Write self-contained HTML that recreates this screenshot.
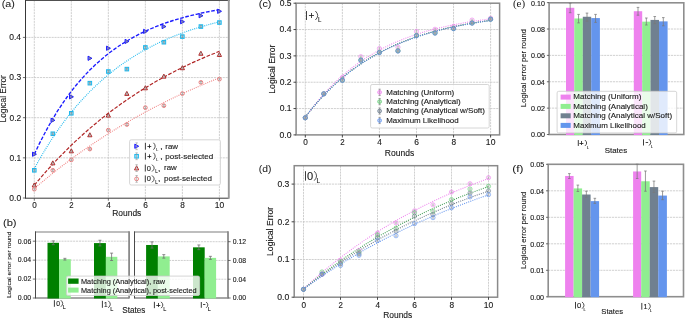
<!DOCTYPE html>
<html><head><meta charset="utf-8"><style>
html,body{margin:0;padding:0;background:#fff;width:685px;height:318px;overflow:hidden}
svg{display:block;will-change:transform}
text{font-family:"Liberation Sans", sans-serif}
</style></head><body>
<svg width="685" height="318" viewBox="0 0 685 318">
<rect width="685" height="318" fill="#fff"/>
<line x1="34.3" y1="0.5" x2="34.3" y2="198.2" stroke="#c8c8c8" stroke-width="0.85" stroke-dasharray="2.1 0.8"/>
<line x1="71.32" y1="0.5" x2="71.32" y2="198.2" stroke="#c8c8c8" stroke-width="0.85" stroke-dasharray="2.1 0.8"/>
<line x1="108.34" y1="0.5" x2="108.34" y2="198.2" stroke="#c8c8c8" stroke-width="0.85" stroke-dasharray="2.1 0.8"/>
<line x1="145.36" y1="0.5" x2="145.36" y2="198.2" stroke="#c8c8c8" stroke-width="0.85" stroke-dasharray="2.1 0.8"/>
<line x1="182.38" y1="0.5" x2="182.38" y2="198.2" stroke="#c8c8c8" stroke-width="0.85" stroke-dasharray="2.1 0.8"/>
<line x1="219.4" y1="0.5" x2="219.4" y2="198.2" stroke="#c8c8c8" stroke-width="0.85" stroke-dasharray="2.1 0.8"/>
<line x1="25.5" y1="157.85" x2="228.8" y2="157.85" stroke="#c8c8c8" stroke-width="0.85" stroke-dasharray="2.1 0.8"/>
<line x1="25.5" y1="117.7" x2="228.8" y2="117.7" stroke="#c8c8c8" stroke-width="0.85" stroke-dasharray="2.1 0.8"/>
<line x1="25.5" y1="77.55" x2="228.8" y2="77.55" stroke="#c8c8c8" stroke-width="0.85" stroke-dasharray="2.1 0.8"/>
<line x1="25.5" y1="37.4" x2="228.8" y2="37.4" stroke="#c8c8c8" stroke-width="0.85" stroke-dasharray="2.1 0.8"/>
<polyline points="34.3,154.3 38.9,144.6 43.6,135.4 48.2,126.8 52.8,118.8 57.4,111.2 62.1,104.2 66.7,97.5 71.3,91.3 75.9,85.5 80.6,80.0 85.2,74.9 89.8,70.1 94.5,65.6 99.1,61.4 103.7,57.4 108.3,53.7 113.0,50.2 117.6,46.9 122.2,43.9 126.9,41.0 131.5,38.3 136.1,35.8 140.7,33.4 145.4,31.2 150.0,29.1 154.6,27.2 159.2,25.3 163.9,23.6 168.5,22.0 173.1,20.5 177.8,19.1 182.4,17.8 187.0,16.5 191.6,15.4 196.3,14.3 200.9,13.2 205.5,12.3 210.1,11.4 214.8,10.5 219.4,9.7" fill="none" stroke="#1a1aff" stroke-width="1.35" stroke-dasharray="3.7 1.6" />
<polyline points="34.3,168.7 38.9,160.3 43.6,152.3 48.2,144.8 52.8,137.6 57.4,130.8 62.1,124.3 66.7,118.1 71.3,112.3 75.9,106.7 80.6,101.4 85.2,96.4 89.8,91.6 94.5,87.0 99.1,82.7 103.7,78.6 108.3,74.7 113.0,71.0 117.6,67.4 122.2,64.1 126.9,60.9 131.5,57.9 136.1,55.0 140.7,52.2 145.4,49.6 150.0,47.2 154.6,44.8 159.2,42.6 163.9,40.5 168.5,38.4 173.1,36.5 177.8,34.7 182.4,33.0 187.0,31.3 191.6,29.7 196.3,28.3 200.9,26.8 205.5,25.5 210.1,24.2 214.8,23.0 219.4,21.8" fill="none" stroke="#1cb8ee" stroke-width="1.15" stroke-dasharray="0.95 1.15" />
<polyline points="34.3,185.3 38.9,179.8 43.6,174.4 48.2,169.2 52.8,164.1 57.4,159.2 62.1,154.4 66.7,149.8 71.3,145.2 75.9,140.9 80.6,136.6 85.2,132.4 89.8,128.4 94.5,124.5 99.1,120.6 103.7,116.9 108.3,113.3 113.0,109.8 117.6,106.4 122.2,103.1 126.9,99.9 131.5,96.7 136.1,93.7 140.7,90.7 145.4,87.9 150.0,85.1 154.6,82.3 159.2,79.7 163.9,77.1 168.5,74.6 173.1,72.2 177.8,69.8 182.4,67.5 187.0,65.3 191.6,63.1 196.3,61.0 200.9,59.0 205.5,57.0 210.1,55.0 214.8,53.2 219.4,51.3" fill="none" stroke="#b02424" stroke-width="1.2" stroke-dasharray="3.7 1.6" />
<polyline points="34.3,188.6 38.9,184.7 43.6,180.8 48.2,177.0 52.8,173.2 57.4,169.6 62.1,166.0 66.7,162.5 71.3,159.0 75.9,155.6 80.6,152.3 85.2,149.1 89.8,145.9 94.5,142.7 99.1,139.7 103.7,136.7 108.3,133.7 113.0,130.8 117.6,128.0 122.2,125.2 126.9,122.5 131.5,119.8 136.1,117.2 140.7,114.6 145.4,112.1 150.0,109.6 154.6,107.2 159.2,104.9 163.9,102.5 168.5,100.2 173.1,98.0 177.8,95.8 182.4,93.7 187.0,91.6 191.6,89.5 196.3,87.5 200.9,85.5 205.5,83.5 210.1,81.6 214.8,79.7 219.4,77.9" fill="none" stroke="#f08080" stroke-width="1.1" stroke-dasharray="0.95 1.15" />
<path d="M32.52 152.14 L36.4 154.24 L32.52 156.34 Z" fill="#8080ff" stroke="#1a1aff" stroke-width="1.0" stroke-linejoin="round"/>
<line x1="34.3" y1="153.34" x2="34.3" y2="155.14" stroke="#777" stroke-width="0.55" />
<line x1="33.2" y1="153.34" x2="35.4" y2="153.34" stroke="#777" stroke-width="0.55" />
<line x1="33.2" y1="155.14" x2="35.4" y2="155.14" stroke="#777" stroke-width="0.55" />
<path d="M51.03 118.21 L54.91 120.31 L51.03 122.41 Z" fill="#8080ff" stroke="#1a1aff" stroke-width="1.0" stroke-linejoin="round"/>
<line x1="52.81" y1="119.41" x2="52.81" y2="121.21" stroke="#777" stroke-width="0.55" />
<line x1="51.71" y1="119.41" x2="53.91" y2="119.41" stroke="#777" stroke-width="0.55" />
<line x1="51.71" y1="121.21" x2="53.91" y2="121.21" stroke="#777" stroke-width="0.55" />
<path d="M69.53 94.72 L73.42 96.82 L69.53 98.92 Z" fill="#8080ff" stroke="#1a1aff" stroke-width="1.0" stroke-linejoin="round"/>
<line x1="71.32" y1="95.92" x2="71.32" y2="97.72" stroke="#777" stroke-width="0.55" />
<line x1="70.22" y1="95.92" x2="72.42" y2="95.92" stroke="#777" stroke-width="0.55" />
<line x1="70.22" y1="97.72" x2="72.42" y2="97.72" stroke="#777" stroke-width="0.55" />
<path d="M88.05 56.18 L91.93 58.28 L88.05 60.38 Z" fill="#8080ff" stroke="#1a1aff" stroke-width="1.0" stroke-linejoin="round"/>
<line x1="89.83" y1="57.38" x2="89.83" y2="59.18" stroke="#777" stroke-width="0.55" />
<line x1="88.73" y1="57.38" x2="90.93" y2="57.38" stroke="#777" stroke-width="0.55" />
<line x1="88.73" y1="59.18" x2="90.93" y2="59.18" stroke="#777" stroke-width="0.55" />
<path d="M106.56 46.14 L110.44 48.24 L106.56 50.34 Z" fill="#8080ff" stroke="#1a1aff" stroke-width="1.0" stroke-linejoin="round"/>
<line x1="108.34" y1="47.34" x2="108.34" y2="49.14" stroke="#777" stroke-width="0.55" />
<line x1="107.24" y1="47.34" x2="109.44" y2="47.34" stroke="#777" stroke-width="0.55" />
<line x1="107.24" y1="49.14" x2="109.44" y2="49.14" stroke="#777" stroke-width="0.55" />
<path d="M125.07 39.31 L128.95 41.41 L125.07 43.51 Z" fill="#8080ff" stroke="#1a1aff" stroke-width="1.0" stroke-linejoin="round"/>
<line x1="126.85" y1="40.51" x2="126.85" y2="42.31" stroke="#777" stroke-width="0.55" />
<line x1="125.75" y1="40.51" x2="127.95" y2="40.51" stroke="#777" stroke-width="0.55" />
<line x1="125.75" y1="42.31" x2="127.95" y2="42.31" stroke="#777" stroke-width="0.55" />
<path d="M143.58 29.28 L147.46 31.38 L143.58 33.48 Z" fill="#8080ff" stroke="#1a1aff" stroke-width="1.0" stroke-linejoin="round"/>
<line x1="145.36" y1="30.48" x2="145.36" y2="32.28" stroke="#777" stroke-width="0.55" />
<line x1="144.26" y1="30.48" x2="146.46" y2="30.48" stroke="#777" stroke-width="0.55" />
<line x1="144.26" y1="32.28" x2="146.46" y2="32.28" stroke="#777" stroke-width="0.55" />
<path d="M162.09 24.46 L165.97 26.56 L162.09 28.66 Z" fill="#8080ff" stroke="#1a1aff" stroke-width="1.0" stroke-linejoin="round"/>
<line x1="163.87" y1="25.66" x2="163.87" y2="27.46" stroke="#777" stroke-width="0.55" />
<line x1="162.77" y1="25.66" x2="164.97" y2="25.66" stroke="#777" stroke-width="0.55" />
<line x1="162.77" y1="27.46" x2="164.97" y2="27.46" stroke="#777" stroke-width="0.55" />
<path d="M180.59 19.64 L184.48 21.74 L180.59 23.84 Z" fill="#8080ff" stroke="#1a1aff" stroke-width="1.0" stroke-linejoin="round"/>
<line x1="182.38" y1="20.84" x2="182.38" y2="22.64" stroke="#777" stroke-width="0.55" />
<line x1="181.28" y1="20.84" x2="183.48" y2="20.84" stroke="#777" stroke-width="0.55" />
<line x1="181.28" y1="22.64" x2="183.48" y2="22.64" stroke="#777" stroke-width="0.55" />
<path d="M199.1 13.62 L202.99 15.72 L199.1 17.82 Z" fill="#8080ff" stroke="#1a1aff" stroke-width="1.0" stroke-linejoin="round"/>
<line x1="200.89" y1="14.82" x2="200.89" y2="16.62" stroke="#777" stroke-width="0.55" />
<line x1="199.79" y1="14.82" x2="201.99" y2="14.82" stroke="#777" stroke-width="0.55" />
<line x1="199.79" y1="16.62" x2="201.99" y2="16.62" stroke="#777" stroke-width="0.55" />
<path d="M217.62 9.2 L221.5 11.3 L217.62 13.4 Z" fill="#8080ff" stroke="#1a1aff" stroke-width="1.0" stroke-linejoin="round"/>
<line x1="219.4" y1="10.4" x2="219.4" y2="12.2" stroke="#777" stroke-width="0.55" />
<line x1="218.3" y1="10.4" x2="220.5" y2="10.4" stroke="#777" stroke-width="0.55" />
<line x1="218.3" y1="12.2" x2="220.5" y2="12.2" stroke="#777" stroke-width="0.55" />
<rect x="32.52" y="168.51" width="3.57" height="3.57" fill="#a8e4f8" stroke="#1cb8ee" stroke-width="1.0"/>
<line x1="34.3" y1="169.4" x2="34.3" y2="171.2" stroke="#777" stroke-width="0.55" />
<line x1="33.2" y1="169.4" x2="35.4" y2="169.4" stroke="#777" stroke-width="0.55" />
<line x1="33.2" y1="171.2" x2="35.4" y2="171.2" stroke="#777" stroke-width="0.55" />
<rect x="51.03" y="131.97" width="3.57" height="3.57" fill="#a8e4f8" stroke="#1cb8ee" stroke-width="1.0"/>
<line x1="52.81" y1="132.86" x2="52.81" y2="134.66" stroke="#777" stroke-width="0.55" />
<line x1="51.71" y1="132.86" x2="53.91" y2="132.86" stroke="#777" stroke-width="0.55" />
<line x1="51.71" y1="134.66" x2="53.91" y2="134.66" stroke="#777" stroke-width="0.55" />
<rect x="69.53" y="111.5" width="3.57" height="3.57" fill="#a8e4f8" stroke="#1cb8ee" stroke-width="1.0"/>
<line x1="71.32" y1="112.38" x2="71.32" y2="114.18" stroke="#777" stroke-width="0.55" />
<line x1="70.22" y1="112.38" x2="72.42" y2="112.38" stroke="#777" stroke-width="0.55" />
<line x1="70.22" y1="114.18" x2="72.42" y2="114.18" stroke="#777" stroke-width="0.55" />
<rect x="88.05" y="81.39" width="3.57" height="3.57" fill="#a8e4f8" stroke="#1cb8ee" stroke-width="1.0"/>
<line x1="89.83" y1="82.27" x2="89.83" y2="84.07" stroke="#777" stroke-width="0.55" />
<line x1="88.73" y1="82.27" x2="90.93" y2="82.27" stroke="#777" stroke-width="0.55" />
<line x1="88.73" y1="84.07" x2="90.93" y2="84.07" stroke="#777" stroke-width="0.55" />
<rect x="106.56" y="69.74" width="3.57" height="3.57" fill="#a8e4f8" stroke="#1cb8ee" stroke-width="1.0"/>
<line x1="108.34" y1="70.63" x2="108.34" y2="72.43" stroke="#777" stroke-width="0.55" />
<line x1="107.24" y1="70.63" x2="109.44" y2="70.63" stroke="#777" stroke-width="0.55" />
<line x1="107.24" y1="72.43" x2="109.44" y2="72.43" stroke="#777" stroke-width="0.55" />
<rect x="125.07" y="67.33" width="3.57" height="3.57" fill="#a8e4f8" stroke="#1cb8ee" stroke-width="1.0"/>
<line x1="126.85" y1="68.22" x2="126.85" y2="70.02" stroke="#777" stroke-width="0.55" />
<line x1="125.75" y1="68.22" x2="127.95" y2="68.22" stroke="#777" stroke-width="0.55" />
<line x1="125.75" y1="70.02" x2="127.95" y2="70.02" stroke="#777" stroke-width="0.55" />
<rect x="143.58" y="45.65" width="3.57" height="3.57" fill="#a8e4f8" stroke="#1cb8ee" stroke-width="1.0"/>
<line x1="145.36" y1="46.54" x2="145.36" y2="48.34" stroke="#777" stroke-width="0.55" />
<line x1="144.26" y1="46.54" x2="146.46" y2="46.54" stroke="#777" stroke-width="0.55" />
<line x1="144.26" y1="48.34" x2="146.46" y2="48.34" stroke="#777" stroke-width="0.55" />
<rect x="162.09" y="40.43" width="3.57" height="3.57" fill="#a8e4f8" stroke="#1cb8ee" stroke-width="1.0"/>
<line x1="163.87" y1="41.32" x2="163.87" y2="43.12" stroke="#777" stroke-width="0.55" />
<line x1="162.77" y1="41.32" x2="164.97" y2="41.32" stroke="#777" stroke-width="0.55" />
<line x1="162.77" y1="43.12" x2="164.97" y2="43.12" stroke="#777" stroke-width="0.55" />
<rect x="180.59" y="34.81" width="3.57" height="3.57" fill="#a8e4f8" stroke="#1cb8ee" stroke-width="1.0"/>
<line x1="182.38" y1="35.7" x2="182.38" y2="37.5" stroke="#777" stroke-width="0.55" />
<line x1="181.28" y1="35.7" x2="183.48" y2="35.7" stroke="#777" stroke-width="0.55" />
<line x1="181.28" y1="37.5" x2="183.48" y2="37.5" stroke="#777" stroke-width="0.55" />
<rect x="199.1" y="24.77" width="3.57" height="3.57" fill="#a8e4f8" stroke="#1cb8ee" stroke-width="1.0"/>
<line x1="200.89" y1="25.66" x2="200.89" y2="27.46" stroke="#777" stroke-width="0.55" />
<line x1="199.79" y1="25.66" x2="201.99" y2="25.66" stroke="#777" stroke-width="0.55" />
<line x1="199.79" y1="27.46" x2="201.99" y2="27.46" stroke="#777" stroke-width="0.55" />
<rect x="217.62" y="20.76" width="3.57" height="3.57" fill="#a8e4f8" stroke="#1cb8ee" stroke-width="1.0"/>
<line x1="219.4" y1="21.64" x2="219.4" y2="23.44" stroke="#777" stroke-width="0.55" />
<line x1="218.3" y1="21.64" x2="220.5" y2="21.64" stroke="#777" stroke-width="0.55" />
<line x1="218.3" y1="23.44" x2="220.5" y2="23.44" stroke="#777" stroke-width="0.55" />
<path d="M34.3 182.95 L36.4 186.94 L32.2 186.94 Z" fill="#ffffff" stroke="#b02424" stroke-width="1.0" stroke-linejoin="round"/>
<line x1="34.3" y1="184.25" x2="34.3" y2="186.05" stroke="#777" stroke-width="0.55" />
<line x1="33.2" y1="184.25" x2="35.4" y2="184.25" stroke="#777" stroke-width="0.55" />
<line x1="33.2" y1="186.05" x2="35.4" y2="186.05" stroke="#777" stroke-width="0.55" />
<path d="M52.81 160.86 L54.91 164.85 L50.71 164.85 Z" fill="#ffffff" stroke="#b02424" stroke-width="1.0" stroke-linejoin="round"/>
<line x1="52.81" y1="162.17" x2="52.81" y2="163.97" stroke="#777" stroke-width="0.55" />
<line x1="51.71" y1="162.17" x2="53.91" y2="162.17" stroke="#777" stroke-width="0.55" />
<line x1="51.71" y1="163.97" x2="53.91" y2="163.97" stroke="#777" stroke-width="0.55" />
<path d="M71.32 148.82 L73.42 152.81 L69.22 152.81 Z" fill="#ffffff" stroke="#b02424" stroke-width="1.0" stroke-linejoin="round"/>
<line x1="71.32" y1="150.12" x2="71.32" y2="151.92" stroke="#777" stroke-width="0.55" />
<line x1="70.22" y1="150.12" x2="72.42" y2="150.12" stroke="#777" stroke-width="0.55" />
<line x1="70.22" y1="151.92" x2="72.42" y2="151.92" stroke="#777" stroke-width="0.55" />
<path d="M89.83 132.76 L91.93 136.75 L87.73 136.75 Z" fill="#ffffff" stroke="#b02424" stroke-width="1.0" stroke-linejoin="round"/>
<line x1="89.83" y1="134.06" x2="89.83" y2="135.86" stroke="#777" stroke-width="0.55" />
<line x1="88.73" y1="134.06" x2="90.93" y2="134.06" stroke="#777" stroke-width="0.55" />
<line x1="88.73" y1="135.86" x2="90.93" y2="135.86" stroke="#777" stroke-width="0.55" />
<path d="M108.34 113.09 L110.44 117.08 L106.24 117.08 Z" fill="#ffffff" stroke="#b02424" stroke-width="1.0" stroke-linejoin="round"/>
<line x1="108.34" y1="114.39" x2="108.34" y2="116.19" stroke="#777" stroke-width="0.55" />
<line x1="107.24" y1="114.39" x2="109.44" y2="114.39" stroke="#777" stroke-width="0.55" />
<line x1="107.24" y1="116.19" x2="109.44" y2="116.19" stroke="#777" stroke-width="0.55" />
<path d="M126.85 91.41 L128.95 95.39 L124.75 95.39 Z" fill="#ffffff" stroke="#b02424" stroke-width="1.0" stroke-linejoin="round"/>
<line x1="126.85" y1="92.71" x2="126.85" y2="94.51" stroke="#777" stroke-width="0.55" />
<line x1="125.75" y1="92.71" x2="127.95" y2="92.71" stroke="#777" stroke-width="0.55" />
<line x1="125.75" y1="94.51" x2="127.95" y2="94.51" stroke="#777" stroke-width="0.55" />
<path d="M145.36 85.78 L147.46 89.77 L143.26 89.77 Z" fill="#ffffff" stroke="#b02424" stroke-width="1.0" stroke-linejoin="round"/>
<line x1="145.36" y1="87.09" x2="145.36" y2="88.89" stroke="#777" stroke-width="0.55" />
<line x1="144.26" y1="87.09" x2="146.46" y2="87.09" stroke="#777" stroke-width="0.55" />
<line x1="144.26" y1="88.89" x2="146.46" y2="88.89" stroke="#777" stroke-width="0.55" />
<path d="M163.87 74.14 L165.97 78.13 L161.77 78.13 Z" fill="#ffffff" stroke="#b02424" stroke-width="1.0" stroke-linejoin="round"/>
<line x1="163.87" y1="75.45" x2="163.87" y2="77.25" stroke="#777" stroke-width="0.55" />
<line x1="162.77" y1="75.45" x2="164.97" y2="75.45" stroke="#777" stroke-width="0.55" />
<line x1="162.77" y1="77.25" x2="164.97" y2="77.25" stroke="#777" stroke-width="0.55" />
<path d="M182.38 65.71 L184.48 69.7 L180.28 69.7 Z" fill="#ffffff" stroke="#b02424" stroke-width="1.0" stroke-linejoin="round"/>
<line x1="182.38" y1="67.01" x2="182.38" y2="68.81" stroke="#777" stroke-width="0.55" />
<line x1="181.28" y1="67.01" x2="183.48" y2="67.01" stroke="#777" stroke-width="0.55" />
<line x1="181.28" y1="68.81" x2="183.48" y2="68.81" stroke="#777" stroke-width="0.55" />
<path d="M200.89 51.26 L202.99 55.25 L198.79 55.25 Z" fill="#ffffff" stroke="#b02424" stroke-width="1.0" stroke-linejoin="round"/>
<line x1="200.89" y1="52.56" x2="200.89" y2="54.36" stroke="#777" stroke-width="0.55" />
<line x1="199.79" y1="52.56" x2="201.99" y2="52.56" stroke="#777" stroke-width="0.55" />
<line x1="199.79" y1="54.36" x2="201.99" y2="54.36" stroke="#777" stroke-width="0.55" />
<path d="M219.4 52.46 L221.5 56.45 L217.3 56.45 Z" fill="#ffffff" stroke="#b02424" stroke-width="1.0" stroke-linejoin="round"/>
<line x1="219.4" y1="53.76" x2="219.4" y2="55.56" stroke="#777" stroke-width="0.55" />
<line x1="218.3" y1="53.76" x2="220.5" y2="53.76" stroke="#777" stroke-width="0.55" />
<line x1="218.3" y1="55.56" x2="220.5" y2="55.56" stroke="#777" stroke-width="0.55" />
<circle cx="34.3" cy="189.17" r="1.89" fill="#ffffff" stroke="#f08080" stroke-width="1.0"/>
<line x1="34.3" y1="188.27" x2="34.3" y2="190.07" stroke="#777" stroke-width="0.55" />
<line x1="33.2" y1="188.27" x2="35.4" y2="188.27" stroke="#777" stroke-width="0.55" />
<line x1="33.2" y1="190.07" x2="35.4" y2="190.07" stroke="#777" stroke-width="0.55" />
<circle cx="52.81" cy="170.3" r="1.89" fill="#ffffff" stroke="#f08080" stroke-width="1.0"/>
<line x1="52.81" y1="169.4" x2="52.81" y2="171.2" stroke="#777" stroke-width="0.55" />
<line x1="51.71" y1="169.4" x2="53.91" y2="169.4" stroke="#777" stroke-width="0.55" />
<line x1="51.71" y1="171.2" x2="53.91" y2="171.2" stroke="#777" stroke-width="0.55" />
<circle cx="71.32" cy="159.86" r="1.89" fill="#ffffff" stroke="#f08080" stroke-width="1.0"/>
<line x1="71.32" y1="158.96" x2="71.32" y2="160.76" stroke="#777" stroke-width="0.55" />
<line x1="70.22" y1="158.96" x2="72.42" y2="158.96" stroke="#777" stroke-width="0.55" />
<line x1="70.22" y1="160.76" x2="72.42" y2="160.76" stroke="#777" stroke-width="0.55" />
<circle cx="89.83" cy="149.02" r="1.89" fill="#ffffff" stroke="#f08080" stroke-width="1.0"/>
<line x1="89.83" y1="148.12" x2="89.83" y2="149.92" stroke="#777" stroke-width="0.55" />
<line x1="88.73" y1="148.12" x2="90.93" y2="148.12" stroke="#777" stroke-width="0.55" />
<line x1="88.73" y1="149.92" x2="90.93" y2="149.92" stroke="#777" stroke-width="0.55" />
<circle cx="108.34" cy="130.15" r="1.89" fill="#ffffff" stroke="#f08080" stroke-width="1.0"/>
<line x1="108.34" y1="129.25" x2="108.34" y2="131.05" stroke="#777" stroke-width="0.55" />
<line x1="107.24" y1="129.25" x2="109.44" y2="129.25" stroke="#777" stroke-width="0.55" />
<line x1="107.24" y1="131.05" x2="109.44" y2="131.05" stroke="#777" stroke-width="0.55" />
<circle cx="126.85" cy="124.53" r="1.89" fill="#ffffff" stroke="#f08080" stroke-width="1.0"/>
<line x1="126.85" y1="123.63" x2="126.85" y2="125.43" stroke="#777" stroke-width="0.55" />
<line x1="125.75" y1="123.63" x2="127.95" y2="123.63" stroke="#777" stroke-width="0.55" />
<line x1="125.75" y1="125.43" x2="127.95" y2="125.43" stroke="#777" stroke-width="0.55" />
<circle cx="145.36" cy="107.66" r="1.89" fill="#ffffff" stroke="#f08080" stroke-width="1.0"/>
<line x1="145.36" y1="106.76" x2="145.36" y2="108.56" stroke="#777" stroke-width="0.55" />
<line x1="144.26" y1="106.76" x2="146.46" y2="106.76" stroke="#777" stroke-width="0.55" />
<line x1="144.26" y1="108.56" x2="146.46" y2="108.56" stroke="#777" stroke-width="0.55" />
<circle cx="163.87" cy="105.66" r="1.89" fill="#ffffff" stroke="#f08080" stroke-width="1.0"/>
<line x1="163.87" y1="104.75" x2="163.87" y2="106.56" stroke="#777" stroke-width="0.55" />
<line x1="162.77" y1="104.75" x2="164.97" y2="104.75" stroke="#777" stroke-width="0.55" />
<line x1="162.77" y1="106.56" x2="164.97" y2="106.56" stroke="#777" stroke-width="0.55" />
<circle cx="182.38" cy="93.61" r="1.89" fill="#ffffff" stroke="#f08080" stroke-width="1.0"/>
<line x1="182.38" y1="92.71" x2="182.38" y2="94.51" stroke="#777" stroke-width="0.55" />
<line x1="181.28" y1="92.71" x2="183.48" y2="92.71" stroke="#777" stroke-width="0.55" />
<line x1="181.28" y1="94.51" x2="183.48" y2="94.51" stroke="#777" stroke-width="0.55" />
<circle cx="200.89" cy="82.37" r="1.89" fill="#ffffff" stroke="#f08080" stroke-width="1.0"/>
<line x1="200.89" y1="81.47" x2="200.89" y2="83.27" stroke="#777" stroke-width="0.55" />
<line x1="199.79" y1="81.47" x2="201.99" y2="81.47" stroke="#777" stroke-width="0.55" />
<line x1="199.79" y1="83.27" x2="201.99" y2="83.27" stroke="#777" stroke-width="0.55" />
<circle cx="219.4" cy="79.16" r="1.89" fill="#ffffff" stroke="#f08080" stroke-width="1.0"/>
<line x1="219.4" y1="78.26" x2="219.4" y2="80.06" stroke="#777" stroke-width="0.55" />
<line x1="218.3" y1="78.26" x2="220.5" y2="78.26" stroke="#777" stroke-width="0.55" />
<line x1="218.3" y1="80.06" x2="220.5" y2="80.06" stroke="#777" stroke-width="0.55" />
<line x1="25.5" y1="0.5" x2="229.7" y2="0.5" stroke="#505050" stroke-width="1.0" />
<line x1="25.5" y1="198.2" x2="228.8" y2="198.2" stroke="#383838" stroke-width="1.0" />
<line x1="25.5" y1="0" x2="25.5" y2="198.7" stroke="#383838" stroke-width="1.0" />
<line x1="228.8" y1="0" x2="228.8" y2="198.7" stroke="#9a9a9a" stroke-width="1.9" />
<line x1="34.3" y1="198.2" x2="34.3" y2="200.7" stroke="#4a4a4a" stroke-width="0.8" />
<text transform="translate(32.56 207.8) scale(0.9761 1)" x="-0.32" y="0" font-size="8.32" fill="#1a1a1a" stroke="#1a1a1a" stroke-width="0.12">0</text>
<line x1="71.32" y1="198.2" x2="71.32" y2="200.7" stroke="#4a4a4a" stroke-width="0.8" />
<text transform="translate(69.74 207.8) scale(0.9408 1)" x="-0.42" y="0" font-size="8.32" fill="#1a1a1a" stroke="#1a1a1a" stroke-width="0.12">2</text>
<line x1="108.34" y1="198.2" x2="108.34" y2="200.7" stroke="#4a4a4a" stroke-width="0.8" />
<text transform="translate(106.49 207.8) scale(0.9762 1)" x="-0.19" y="0" font-size="8.32" fill="#1a1a1a" stroke="#1a1a1a" stroke-width="0.12">4</text>
<line x1="145.36" y1="198.2" x2="145.36" y2="200.7" stroke="#4a4a4a" stroke-width="0.8" />
<text transform="translate(143.62 207.8) scale(1.0102 1)" x="-0.42" y="0" font-size="8.32" fill="#1a1a1a" stroke="#1a1a1a" stroke-width="0.12">6</text>
<line x1="182.38" y1="198.2" x2="182.38" y2="200.7" stroke="#4a4a4a" stroke-width="0.8" />
<text transform="translate(180.65 207.8) scale(0.9866 1)" x="-0.36" y="0" font-size="8.32" fill="#1a1a1a" stroke="#1a1a1a" stroke-width="0.12">8</text>
<line x1="219.4" y1="198.2" x2="219.4" y2="200.7" stroke="#4a4a4a" stroke-width="0.8" />
<text transform="translate(215.38 207.8) scale(1.0180 1)" x="-0.63" y="0" font-size="8.32" fill="#1a1a1a" stroke="#1a1a1a" stroke-width="0.12">10</text>
<line x1="22.9" y1="198" x2="25.5" y2="198" stroke="#4a4a4a" stroke-width="0.8" />
<text transform="translate(9.57 200.8) scale(1.0290 1)" x="-0.32" y="0" font-size="8.32" fill="#1a1a1a" stroke="#1a1a1a" stroke-width="0.12">0.0</text>
<line x1="22.9" y1="157.85" x2="25.5" y2="157.85" stroke="#4a4a4a" stroke-width="0.8" />
<text transform="translate(9.77 160.65) scale(1.0183 1)" x="-0.32" y="0" font-size="8.32" fill="#1a1a1a" stroke="#1a1a1a" stroke-width="0.12">0.1</text>
<line x1="22.9" y1="117.7" x2="25.5" y2="117.7" stroke="#4a4a4a" stroke-width="0.8" />
<text transform="translate(9.83 120.5) scale(1.0139 1)" x="-0.32" y="0" font-size="8.32" fill="#1a1a1a" stroke="#1a1a1a" stroke-width="0.12">0.2</text>
<line x1="22.9" y1="77.55" x2="25.5" y2="77.55" stroke="#4a4a4a" stroke-width="0.8" />
<text transform="translate(9.68 80.35) scale(1.0231 1)" x="-0.32" y="0" font-size="8.32" fill="#1a1a1a" stroke="#1a1a1a" stroke-width="0.12">0.3</text>
<line x1="22.9" y1="37.4" x2="25.5" y2="37.4" stroke="#4a4a4a" stroke-width="0.8" />
<text transform="translate(9.49 40.2) scale(1.0285 1)" x="-0.32" y="0" font-size="8.32" fill="#1a1a1a" stroke="#1a1a1a" stroke-width="0.12">0.4</text>
<text transform="translate(112.9 216.4) scale(0.9957 1)" x="-0.7" y="0" font-size="8.48" fill="#1a1a1a" stroke="#1a1a1a" stroke-width="0.12">Rounds</text>
<text transform="translate(5.9 121.85) rotate(-90) scale(1.0214 1)" x="-0.67" y="0" font-size="8.21" fill="#1a1a1a" stroke="#1a1a1a" stroke-width="0.12">Logical Error</text>
<text transform="translate(2.3 7.1) scale(1.1055 1)" x="-0.6" y="0" font-size="9.72" fill="#1a1a1a" stroke="#1a1a1a" stroke-width="0.05">(a)</text>
<rect x="129.6" y="139.8" width="90.8" height="45.2" rx="1.6" fill="#fff" fill-opacity="0.8" stroke="#cccccc" stroke-width="0.8"/>
<path d="M134.81 144.15 L138.7 146.25 L134.81 148.35 Z" fill="#8080ff" stroke="#1a1aff" stroke-width="1.0" stroke-linejoin="round"/>
<line x1="136.6" y1="142.85" x2="136.6" y2="149.65" stroke="#999" stroke-width="0.6" />
<line x1="135.4" y1="142.85" x2="137.8" y2="142.85" stroke="#999" stroke-width="0.6" />
<line x1="135.4" y1="149.65" x2="137.8" y2="149.65" stroke="#999" stroke-width="0.6" />
<line x1="145.4" y1="142.8" x2="145.4" y2="149.7" stroke="#1a1a1a" stroke-width="0.85" />
<line x1="147.4" y1="146.5" x2="151.26" y2="146.5" stroke="#1a1a1a" stroke-width="0.8075" />
<line x1="149.5" y1="144.32" x2="149.5" y2="148.18" stroke="#1a1a1a" stroke-width="0.8075" />
<path d="M153.47 142.8 Q156.9 146.25 153.47 149.7" fill="none" stroke="#1a1a1a" stroke-width="0.77"/>
<text transform="translate(156.58 150.7) scale(0.9526 1)" x="-0.32" y="0" font-size="3.89" fill="#1a1a1a" stroke="#1a1a1a" stroke-width="0.12">L</text>
<text transform="translate(160.9 148.65) scale(1.3497 1)" x="-0.7" y="0" font-size="7.78" fill="#1a1a1a" stroke="#1a1a1a" stroke-width="0.12">,</text>
<text transform="translate(165.8 148.55) scale(0.9946 1)" x="-0.53" y="0" font-size="7.99" fill="#1a1a1a" stroke="#1a1a1a" stroke-width="0.12">raw</text>
<rect x="134.81" y="154.47" width="3.57" height="3.57" fill="#a8e4f8" stroke="#1cb8ee" stroke-width="1.0"/>
<line x1="136.6" y1="152.85" x2="136.6" y2="159.65" stroke="#999" stroke-width="0.6" />
<line x1="135.4" y1="152.85" x2="137.8" y2="152.85" stroke="#999" stroke-width="0.6" />
<line x1="135.4" y1="159.65" x2="137.8" y2="159.65" stroke="#999" stroke-width="0.6" />
<line x1="145.4" y1="152.8" x2="145.4" y2="159.7" stroke="#1a1a1a" stroke-width="0.85" />
<line x1="147.4" y1="156.5" x2="151.26" y2="156.5" stroke="#1a1a1a" stroke-width="0.8075" />
<line x1="149.5" y1="154.32" x2="149.5" y2="158.18" stroke="#1a1a1a" stroke-width="0.8075" />
<path d="M153.47 152.8 Q156.9 156.25 153.47 159.7" fill="none" stroke="#1a1a1a" stroke-width="0.77"/>
<text transform="translate(156.58 160.7) scale(0.9526 1)" x="-0.32" y="0" font-size="3.89" fill="#1a1a1a" stroke="#1a1a1a" stroke-width="0.12">L</text>
<text transform="translate(160.9 158.65) scale(1.3497 1)" x="-0.7" y="0" font-size="7.78" fill="#1a1a1a" stroke="#1a1a1a" stroke-width="0.12">,</text>
<text transform="translate(165.8 158.55) scale(1.0107 1)" x="-0.52" y="0" font-size="7.99" fill="#1a1a1a" stroke="#1a1a1a" stroke-width="0.12">post-selected</text>
<path d="M136.6 165.89 L138.7 169.88 L134.5 169.88 Z" fill="#ffffff" stroke="#b02424" stroke-width="1.0" stroke-linejoin="round"/>
<line x1="136.6" y1="164.7" x2="136.6" y2="171.5" stroke="#999" stroke-width="0.6" />
<line x1="135.4" y1="164.7" x2="137.8" y2="164.7" stroke="#999" stroke-width="0.6" />
<line x1="135.4" y1="171.5" x2="137.8" y2="171.5" stroke="#999" stroke-width="0.6" />
<line x1="145.3" y1="164.65" x2="145.3" y2="171.55" stroke="#1a1a1a" stroke-width="0.85" />
<text transform="translate(147.1 170.69) scale(0.9761 1)" x="-0.3" y="0" font-size="7.67" fill="#1a1a1a" stroke="#1a1a1a" stroke-width="0.12">0</text>
<path d="M151.99 164.65 Q156.41 168.1 151.99 171.55" fill="none" stroke="#1a1a1a" stroke-width="0.77"/>
<text transform="translate(155.51 173.28) scale(0.9526 1)" x="-0.38" y="0" font-size="4.64" fill="#1a1a1a" stroke="#1a1a1a" stroke-width="0.12">L</text>
<text transform="translate(158.6 170.5) scale(1.3497 1)" x="-0.7" y="0" font-size="7.78" fill="#1a1a1a" stroke="#1a1a1a" stroke-width="0.12">,</text>
<text transform="translate(164.5 170.4) scale(0.9946 1)" x="-0.53" y="0" font-size="7.99" fill="#1a1a1a" stroke="#1a1a1a" stroke-width="0.12">raw</text>
<circle cx="136.6" cy="178.9" r="1.89" fill="#ffffff" stroke="#f08080" stroke-width="1.0"/>
<line x1="136.6" y1="175.5" x2="136.6" y2="182.3" stroke="#999" stroke-width="0.6" />
<line x1="135.4" y1="175.5" x2="137.8" y2="175.5" stroke="#999" stroke-width="0.6" />
<line x1="135.4" y1="182.3" x2="137.8" y2="182.3" stroke="#999" stroke-width="0.6" />
<line x1="145.3" y1="175.45" x2="145.3" y2="182.35" stroke="#1a1a1a" stroke-width="0.85" />
<text transform="translate(147.1 181.49) scale(0.9761 1)" x="-0.3" y="0" font-size="7.67" fill="#1a1a1a" stroke="#1a1a1a" stroke-width="0.12">0</text>
<path d="M151.99 175.45 Q156.41 178.9 151.99 182.35" fill="none" stroke="#1a1a1a" stroke-width="0.77"/>
<text transform="translate(155.51 184.08) scale(0.9526 1)" x="-0.38" y="0" font-size="4.64" fill="#1a1a1a" stroke="#1a1a1a" stroke-width="0.12">L</text>
<text transform="translate(158.6 181.3) scale(1.3497 1)" x="-0.7" y="0" font-size="7.78" fill="#1a1a1a" stroke="#1a1a1a" stroke-width="0.12">,</text>
<text transform="translate(164.5 181.2) scale(1.0107 1)" x="-0.52" y="0" font-size="7.99" fill="#1a1a1a" stroke="#1a1a1a" stroke-width="0.12">post-selected</text>
<line x1="35.4" y1="279.07" x2="129.9" y2="279.07" stroke="#c8c8c8" stroke-width="0.85" stroke-dasharray="2.1 0.8"/>
<line x1="35.4" y1="260.13" x2="129.9" y2="260.13" stroke="#c8c8c8" stroke-width="0.85" stroke-dasharray="2.1 0.8"/>
<line x1="35.4" y1="241.2" x2="129.9" y2="241.2" stroke="#c8c8c8" stroke-width="0.85" stroke-dasharray="2.1 0.8"/>
<line x1="134.3" y1="279.23" x2="228.0" y2="279.23" stroke="#c8c8c8" stroke-width="0.85" stroke-dasharray="2.1 0.8"/>
<line x1="134.3" y1="260.46" x2="228.0" y2="260.46" stroke="#c8c8c8" stroke-width="0.85" stroke-dasharray="2.1 0.8"/>
<line x1="134.3" y1="241.7" x2="228.0" y2="241.7" stroke="#c8c8c8" stroke-width="0.85" stroke-dasharray="2.1 0.8"/>
<line x1="35.5" y1="232" x2="129.1" y2="232" stroke="#a8a8a8" stroke-width="1.5" />
<line x1="35.5" y1="298" x2="129.1" y2="298" stroke="#505050" stroke-width="1.0" />
<line x1="35.5" y1="231.3" x2="35.5" y2="298.5" stroke="#4a4a4a" stroke-width="1.0" />
<line x1="129.1" y1="231.3" x2="129.1" y2="298.5" stroke="#8a8a8a" stroke-width="1.8" />
<line x1="134.5" y1="232" x2="228" y2="232" stroke="#a8a8a8" stroke-width="1.5" />
<line x1="134.5" y1="298" x2="228" y2="298" stroke="#505050" stroke-width="1.0" />
<line x1="134.5" y1="231.3" x2="134.5" y2="298.5" stroke="#4a4a4a" stroke-width="1.0" />
<line x1="228" y1="231.3" x2="228" y2="298.5" stroke="#8a8a8a" stroke-width="1.8" />
<rect x="47.5" y="242.81" width="11.5" height="55.69" fill="#008000" />
<rect x="59" y="259.19" width="11.8" height="39.31" fill="#90ee90" />
<rect x="94" y="243.09" width="11.9" height="55.41" fill="#008000" />
<rect x="105.9" y="256.82" width="11.4" height="41.68" fill="#90ee90" />
<rect x="146.1" y="244.98" width="11.8" height="53.52" fill="#008000" />
<rect x="157.9" y="256.38" width="11.8" height="42.12" fill="#90ee90" />
<rect x="193" y="247.33" width="11.7" height="51.17" fill="#008000" />
<rect x="204.7" y="257.88" width="11.4" height="40.62" fill="#90ee90" />
<line x1="53.25" y1="240.91" x2="53.25" y2="244.7" stroke="#707070" stroke-width="0.8" />
<line x1="51.75" y1="240.91" x2="54.75" y2="240.91" stroke="#707070" stroke-width="0.8" />
<line x1="51.75" y1="244.7" x2="54.75" y2="244.7" stroke="#707070" stroke-width="0.8" />
<line x1="64.9" y1="258.33" x2="64.9" y2="260.04" stroke="#707070" stroke-width="0.8" />
<line x1="63.4" y1="258.33" x2="66.4" y2="258.33" stroke="#707070" stroke-width="0.8" />
<line x1="63.4" y1="260.04" x2="66.4" y2="260.04" stroke="#707070" stroke-width="0.8" />
<line x1="99.95" y1="240.25" x2="99.95" y2="245.93" stroke="#707070" stroke-width="0.8" />
<line x1="98.45" y1="240.25" x2="101.45" y2="240.25" stroke="#707070" stroke-width="0.8" />
<line x1="98.45" y1="245.93" x2="101.45" y2="245.93" stroke="#707070" stroke-width="0.8" />
<line x1="111.6" y1="253.13" x2="111.6" y2="260.51" stroke="#707070" stroke-width="0.8" />
<line x1="110.1" y1="253.13" x2="113.1" y2="253.13" stroke="#707070" stroke-width="0.8" />
<line x1="110.1" y1="260.51" x2="113.1" y2="260.51" stroke="#707070" stroke-width="0.8" />
<line x1="152" y1="241.88" x2="152" y2="248.08" stroke="#707070" stroke-width="0.8" />
<line x1="150.5" y1="241.88" x2="153.5" y2="241.88" stroke="#707070" stroke-width="0.8" />
<line x1="150.5" y1="248.08" x2="153.5" y2="248.08" stroke="#707070" stroke-width="0.8" />
<line x1="163.8" y1="254.65" x2="163.8" y2="258.12" stroke="#707070" stroke-width="0.8" />
<line x1="162.3" y1="254.65" x2="165.3" y2="254.65" stroke="#707070" stroke-width="0.8" />
<line x1="162.3" y1="258.12" x2="165.3" y2="258.12" stroke="#707070" stroke-width="0.8" />
<line x1="198.85" y1="244.98" x2="198.85" y2="249.67" stroke="#707070" stroke-width="0.8" />
<line x1="197.35" y1="244.98" x2="200.35" y2="244.98" stroke="#707070" stroke-width="0.8" />
<line x1="197.35" y1="249.67" x2="200.35" y2="249.67" stroke="#707070" stroke-width="0.8" />
<line x1="210.4" y1="256.34" x2="210.4" y2="259.43" stroke="#707070" stroke-width="0.8" />
<line x1="208.9" y1="256.34" x2="211.9" y2="256.34" stroke="#707070" stroke-width="0.8" />
<line x1="208.9" y1="259.43" x2="211.9" y2="259.43" stroke="#707070" stroke-width="0.8" />
<line x1="32.8" y1="298" x2="35.4" y2="298" stroke="#4a4a4a" stroke-width="0.8" />
<text transform="translate(18 300.3) scale(1.0227 1)" x="-0.27" y="0" font-size="6.80" fill="#1a1a1a" stroke="#1a1a1a" stroke-width="0.12">0.00</text>
<line x1="32.8" y1="279.07" x2="35.4" y2="279.07" stroke="#4a4a4a" stroke-width="0.8" />
<text transform="translate(18 281.37) scale(1.0289 1)" x="-0.27" y="0" font-size="6.80" fill="#1a1a1a" stroke="#1a1a1a" stroke-width="0.12">0.02</text>
<line x1="32.8" y1="260.13" x2="35.4" y2="260.13" stroke="#4a4a4a" stroke-width="0.8" />
<text transform="translate(18 262.43) scale(1.0174 1)" x="-0.27" y="0" font-size="6.80" fill="#1a1a1a" stroke="#1a1a1a" stroke-width="0.12">0.04</text>
<line x1="32.8" y1="241.2" x2="35.4" y2="241.2" stroke="#4a4a4a" stroke-width="0.8" />
<text transform="translate(18 243.5) scale(1.0254 1)" x="-0.27" y="0" font-size="6.80" fill="#1a1a1a" stroke="#1a1a1a" stroke-width="0.12">0.06</text>
<line x1="228" y1="298" x2="230.6" y2="298" stroke="#4a4a4a" stroke-width="0.8" />
<text transform="translate(233 300.3) scale(1.0070 1)" x="-0.27" y="0" font-size="6.80" fill="#1a1a1a" stroke="#1a1a1a" stroke-width="0.12">0.00</text>
<line x1="228" y1="279.23" x2="230.6" y2="279.23" stroke="#4a4a4a" stroke-width="0.8" />
<text transform="translate(233 281.53) scale(1.0018 1)" x="-0.27" y="0" font-size="6.80" fill="#1a1a1a" stroke="#1a1a1a" stroke-width="0.12">0.04</text>
<line x1="228" y1="260.46" x2="230.6" y2="260.46" stroke="#4a4a4a" stroke-width="0.8" />
<text transform="translate(233 262.76) scale(1.0094 1)" x="-0.27" y="0" font-size="6.80" fill="#1a1a1a" stroke="#1a1a1a" stroke-width="0.12">0.08</text>
<line x1="228" y1="241.7" x2="230.6" y2="241.7" stroke="#4a4a4a" stroke-width="0.8" />
<text transform="translate(233 244) scale(1.0131 1)" x="-0.27" y="0" font-size="6.80" fill="#1a1a1a" stroke="#1a1a1a" stroke-width="0.12">0.12</text>
<line x1="54.4" y1="300.2" x2="54.4" y2="306.8" stroke="#1a1a1a" stroke-width="0.85" />
<text transform="translate(56.44 305.83) scale(0.9761 1)" x="-0.27" y="0" font-size="6.91" fill="#1a1a1a" stroke="#1a1a1a" stroke-width="0.12">0</text>
<path d="M60.8 300.2 Q64.6 303.5 60.8 306.8" fill="none" stroke="#1a1a1a" stroke-width="0.77"/>
<text transform="translate(63.18 308.78) scale(0.9526 1)" x="-0.46" y="0" font-size="5.62" fill="#1a1a1a" stroke="#1a1a1a" stroke-width="0.12">L</text>
<line x1="102.4" y1="300.8" x2="102.4" y2="307.8" stroke="#1a1a1a" stroke-width="0.85" />
<text transform="translate(104.58 306.63) scale(0.9322 1)" x="-0.53" y="0" font-size="6.91" fill="#1a1a1a" stroke="#1a1a1a" stroke-width="0.12">1</text>
<path d="M108.28 300.8 Q112.31 304.3 108.28 307.8" fill="none" stroke="#1a1a1a" stroke-width="0.77"/>
<text transform="translate(110.8 310.81) scale(0.9526 1)" x="-0.48" y="0" font-size="5.83" fill="#1a1a1a" stroke="#1a1a1a" stroke-width="0.12">L</text>
<line x1="154.4" y1="301.85" x2="154.4" y2="308.15" stroke="#1a1a1a" stroke-width="0.85" />
<line x1="156.29" y1="305.5" x2="160.32" y2="305.5" stroke="#1a1a1a" stroke-width="0.8075" />
<line x1="158.5" y1="302.98" x2="158.5" y2="307.02" stroke="#1a1a1a" stroke-width="0.8075" />
<path d="M161.08 301.85 Q164.61 305 161.08 308.15" fill="none" stroke="#1a1a1a" stroke-width="0.77"/>
<text transform="translate(163.79 310.8) scale(0.9526 1)" x="-0.48" y="0" font-size="5.83" fill="#1a1a1a" stroke="#1a1a1a" stroke-width="0.12">L</text>
<line x1="201.3" y1="302" x2="201.3" y2="307.8" stroke="#1a1a1a" stroke-width="0.85" />
<line x1="203.04" y1="304.5" x2="205.36" y2="304.5" stroke="#1a1a1a" stroke-width="0.8075" />
<path d="M206.17 302 Q209.51 304.9 206.17 307.8" fill="none" stroke="#1a1a1a" stroke-width="0.77"/>
<text transform="translate(208.26 310.99) scale(0.9526 1)" x="-0.46" y="0" font-size="5.62" fill="#1a1a1a" stroke="#1a1a1a" stroke-width="0.12">L</text>
<text transform="translate(122.6 312.9) scale(0.9802 1)" x="-0.38" y="0" font-size="8.30" fill="#1a1a1a" stroke="#1a1a1a" stroke-width="0.12">States</text>
<text transform="translate(10.9 297.5) rotate(-90) scale(1.0558 1)" x="-0.51" y="0" font-size="6.23" fill="#1a1a1a" stroke="#1a1a1a" stroke-width="0.12">Logical error per round</text>
<text transform="translate(3.6 226) scale(1.1523 1)" x="-0.6" y="0" font-size="9.72" fill="#1a1a1a" stroke="#1a1a1a" stroke-width="0.05">(b)</text>
<rect x="66.4" y="276.1" width="133.2" height="19.4" rx="1.6" fill="#fff" fill-opacity="0.8" stroke="#cccccc" stroke-width="0.8"/>
<rect x="68.1" y="278.5" width="10.5" height="5.3" fill="#008000" />
<rect x="68.1" y="287.6" width="10.5" height="5" fill="#90ee90" />
<text transform="translate(81.6 284) scale(1.0542 1)" x="-0.57" y="0" font-size="6.97" fill="#1a1a1a" stroke="#1a1a1a" stroke-width="0.12">Matching (Analytical), raw</text>
<text transform="translate(81.6 292.7) scale(1.0520 1)" x="-0.57" y="0" font-size="6.97" fill="#1a1a1a" stroke="#1a1a1a" stroke-width="0.12">Matching (Analytical), post-selected</text>
<line x1="305.3" y1="3.2" x2="305.3" y2="134.9" stroke="#c8c8c8" stroke-width="0.85" stroke-dasharray="2.1 0.8"/>
<line x1="342.36" y1="3.2" x2="342.36" y2="134.9" stroke="#c8c8c8" stroke-width="0.85" stroke-dasharray="2.1 0.8"/>
<line x1="379.42" y1="3.2" x2="379.42" y2="134.9" stroke="#c8c8c8" stroke-width="0.85" stroke-dasharray="2.1 0.8"/>
<line x1="416.48" y1="3.2" x2="416.48" y2="134.9" stroke="#c8c8c8" stroke-width="0.85" stroke-dasharray="2.1 0.8"/>
<line x1="453.54" y1="3.2" x2="453.54" y2="134.9" stroke="#c8c8c8" stroke-width="0.85" stroke-dasharray="2.1 0.8"/>
<line x1="490.6" y1="3.2" x2="490.6" y2="134.9" stroke="#c8c8c8" stroke-width="0.85" stroke-dasharray="2.1 0.8"/>
<line x1="296.1" y1="108.56" x2="499.6" y2="108.56" stroke="#c8c8c8" stroke-width="0.85" stroke-dasharray="2.1 0.8"/>
<line x1="296.1" y1="82.22" x2="499.6" y2="82.22" stroke="#c8c8c8" stroke-width="0.85" stroke-dasharray="2.1 0.8"/>
<line x1="296.1" y1="55.88" x2="499.6" y2="55.88" stroke="#c8c8c8" stroke-width="0.85" stroke-dasharray="2.1 0.8"/>
<line x1="296.1" y1="29.54" x2="499.6" y2="29.54" stroke="#c8c8c8" stroke-width="0.85" stroke-dasharray="2.1 0.8"/>
<polyline points="305.3,117.6 309.9,111.2 314.6,105.1 319.2,99.4 323.8,94.1 328.5,89.1 333.1,84.3 337.7,79.9 342.4,75.7 347.0,71.8 351.6,68.1 356.3,64.6 360.9,61.4 365.5,58.3 370.2,55.4 374.8,52.7 379.4,50.1 384.1,47.7 388.7,45.4 393.3,43.3 398.0,41.3 402.6,39.4 407.2,37.6 411.8,36.0 416.5,34.4 421.1,32.9 425.7,31.5 430.4,30.2 435.0,29.0 439.6,27.9 444.3,26.8 448.9,25.7 453.5,24.8 458.2,23.9 462.8,23.0 467.4,22.2 472.1,21.5 476.7,20.8 481.3,20.1 486.0,19.5 490.6,18.9" fill="none" stroke="#ee82ee" stroke-width="1.1" stroke-dasharray="0.95 1.25" />
<polyline points="305.3,117.1 309.9,111.1 314.6,105.5 319.2,100.1 323.8,95.1 328.5,90.4 333.1,85.9 337.7,81.6 342.4,77.6 347.0,73.8 351.6,70.2 356.3,66.9 360.9,63.7 365.5,60.7 370.2,57.8 374.8,55.1 379.4,52.6 384.1,50.2 388.7,47.9 393.3,45.8 398.0,43.8 402.6,41.9 407.2,40.1 411.8,38.4 416.5,36.8 421.1,35.2 425.7,33.8 430.4,32.5 435.0,31.2 439.6,30.0 444.3,28.8 448.9,27.7 453.5,26.7 458.2,25.8 462.8,24.9 467.4,24.0 472.1,23.2 476.7,22.4 481.3,21.7 486.0,21.0 490.6,20.4" fill="none" stroke="#3c9a50" stroke-width="1.1" stroke-dasharray="0.95 1.25" />
<polyline points="305.3,117.0 309.9,111.1 314.6,105.5 319.2,100.2 323.8,95.2 328.5,90.5 333.1,86.0 337.7,81.8 342.4,77.8 347.0,74.0 351.6,70.4 356.3,67.1 360.9,63.9 365.5,60.9 370.2,58.0 374.8,55.4 379.4,52.8 384.1,50.4 388.7,48.1 393.3,46.0 398.0,44.0 402.6,42.1 407.2,40.3 411.8,38.5 416.5,36.9 421.1,35.4 425.7,34.0 430.4,32.6 435.0,31.3 439.6,30.1 444.3,28.9 448.9,27.8 453.5,26.8 458.2,25.8 462.8,24.9 467.4,24.1 472.1,23.2 476.7,22.5 481.3,21.7 486.0,21.0 490.6,20.4" fill="none" stroke="#6a7888" stroke-width="1.1" stroke-dasharray="0.95 1.25" />
<polyline points="305.3,117.0 309.9,111.1 314.6,105.5 319.2,100.2 323.8,95.2 328.5,90.5 333.1,86.0 337.7,81.8 342.4,77.8 347.0,74.1 351.6,70.5 356.3,67.2 360.9,64.0 365.5,61.0 370.2,58.1 374.8,55.4 379.4,52.9 384.1,50.5 388.7,48.2 393.3,46.1 398.0,44.1 402.6,42.2 407.2,40.4 411.8,38.7 416.5,37.0 421.1,35.5 425.7,34.1 430.4,32.7 435.0,31.4 439.6,30.2 444.3,29.0 448.9,28.0 453.5,26.9 458.2,26.0 462.8,25.0 467.4,24.2 472.1,23.4 476.7,22.6 481.3,21.8 486.0,21.2 490.6,20.5" fill="none" stroke="#6495ed" stroke-width="1.1" stroke-dasharray="0.95 1.25" />
<circle cx="305.3" cy="117.78" r="2.1" fill="#ee82ee" fill-opacity="0.1" stroke="#ee82ee" stroke-opacity="0.8" stroke-width="0.8"/>
<line x1="305.3" y1="117.08" x2="305.3" y2="118.48" stroke="#999" stroke-width="0.4" />
<line x1="304.3" y1="117.08" x2="306.3" y2="117.08" stroke="#999" stroke-width="0.4" />
<line x1="304.3" y1="118.48" x2="306.3" y2="118.48" stroke="#999" stroke-width="0.4" />
<circle cx="323.83" cy="93.81" r="2.1" fill="#ee82ee" fill-opacity="0.1" stroke="#ee82ee" stroke-opacity="0.8" stroke-width="0.8"/>
<line x1="323.83" y1="93.11" x2="323.83" y2="94.51" stroke="#999" stroke-width="0.4" />
<line x1="322.83" y1="93.11" x2="324.83" y2="93.11" stroke="#999" stroke-width="0.4" />
<line x1="322.83" y1="94.51" x2="324.83" y2="94.51" stroke="#999" stroke-width="0.4" />
<circle cx="342.36" cy="77.48" r="2.1" fill="#ee82ee" fill-opacity="0.1" stroke="#ee82ee" stroke-opacity="0.8" stroke-width="0.8"/>
<line x1="342.36" y1="76.78" x2="342.36" y2="78.18" stroke="#999" stroke-width="0.4" />
<line x1="341.36" y1="76.78" x2="343.36" y2="76.78" stroke="#999" stroke-width="0.4" />
<line x1="341.36" y1="78.18" x2="343.36" y2="78.18" stroke="#999" stroke-width="0.4" />
<circle cx="360.89" cy="56.67" r="2.1" fill="#ee82ee" fill-opacity="0.1" stroke="#ee82ee" stroke-opacity="0.8" stroke-width="0.8"/>
<line x1="360.89" y1="55.97" x2="360.89" y2="57.37" stroke="#999" stroke-width="0.4" />
<line x1="359.89" y1="55.97" x2="361.89" y2="55.97" stroke="#999" stroke-width="0.4" />
<line x1="359.89" y1="57.37" x2="361.89" y2="57.37" stroke="#999" stroke-width="0.4" />
<circle cx="379.42" cy="48.5" r="2.1" fill="#ee82ee" fill-opacity="0.1" stroke="#ee82ee" stroke-opacity="0.8" stroke-width="0.8"/>
<line x1="379.42" y1="47.8" x2="379.42" y2="49.2" stroke="#999" stroke-width="0.4" />
<line x1="378.42" y1="47.8" x2="380.42" y2="47.8" stroke="#999" stroke-width="0.4" />
<line x1="378.42" y1="49.2" x2="380.42" y2="49.2" stroke="#999" stroke-width="0.4" />
<circle cx="397.95" cy="47.19" r="2.1" fill="#ee82ee" fill-opacity="0.1" stroke="#ee82ee" stroke-opacity="0.8" stroke-width="0.8"/>
<line x1="397.95" y1="46.49" x2="397.95" y2="47.89" stroke="#999" stroke-width="0.4" />
<line x1="396.95" y1="46.49" x2="398.95" y2="46.49" stroke="#999" stroke-width="0.4" />
<line x1="396.95" y1="47.89" x2="398.95" y2="47.89" stroke="#999" stroke-width="0.4" />
<circle cx="416.48" cy="31.38" r="2.1" fill="#ee82ee" fill-opacity="0.1" stroke="#ee82ee" stroke-opacity="0.8" stroke-width="0.8"/>
<line x1="416.48" y1="30.68" x2="416.48" y2="32.08" stroke="#999" stroke-width="0.4" />
<line x1="415.48" y1="30.68" x2="417.48" y2="30.68" stroke="#999" stroke-width="0.4" />
<line x1="415.48" y1="32.08" x2="417.48" y2="32.08" stroke="#999" stroke-width="0.4" />
<circle cx="435.01" cy="29.28" r="2.1" fill="#ee82ee" fill-opacity="0.1" stroke="#ee82ee" stroke-opacity="0.8" stroke-width="0.8"/>
<line x1="435.01" y1="28.58" x2="435.01" y2="29.98" stroke="#999" stroke-width="0.4" />
<line x1="434.01" y1="28.58" x2="436.01" y2="28.58" stroke="#999" stroke-width="0.4" />
<line x1="434.01" y1="29.98" x2="436.01" y2="29.98" stroke="#999" stroke-width="0.4" />
<circle cx="453.54" cy="26.38" r="2.1" fill="#ee82ee" fill-opacity="0.1" stroke="#ee82ee" stroke-opacity="0.8" stroke-width="0.8"/>
<line x1="453.54" y1="25.68" x2="453.54" y2="27.08" stroke="#999" stroke-width="0.4" />
<line x1="452.54" y1="25.68" x2="454.54" y2="25.68" stroke="#999" stroke-width="0.4" />
<line x1="452.54" y1="27.08" x2="454.54" y2="27.08" stroke="#999" stroke-width="0.4" />
<circle cx="472.07" cy="20.06" r="2.1" fill="#ee82ee" fill-opacity="0.1" stroke="#ee82ee" stroke-opacity="0.8" stroke-width="0.8"/>
<line x1="472.07" y1="19.36" x2="472.07" y2="20.76" stroke="#999" stroke-width="0.4" />
<line x1="471.07" y1="19.36" x2="473.07" y2="19.36" stroke="#999" stroke-width="0.4" />
<line x1="471.07" y1="20.76" x2="473.07" y2="20.76" stroke="#999" stroke-width="0.4" />
<circle cx="490.6" cy="18.21" r="2.1" fill="#ee82ee" fill-opacity="0.1" stroke="#ee82ee" stroke-opacity="0.8" stroke-width="0.8"/>
<line x1="490.6" y1="17.51" x2="490.6" y2="18.91" stroke="#999" stroke-width="0.4" />
<line x1="489.6" y1="17.51" x2="491.6" y2="17.51" stroke="#999" stroke-width="0.4" />
<line x1="489.6" y1="18.91" x2="491.6" y2="18.91" stroke="#999" stroke-width="0.4" />
<circle cx="305.3" cy="117.78" r="2.1" fill="#66cc77" fill-opacity="0.1" stroke="#66cc77" stroke-opacity="0.8" stroke-width="0.8"/>
<line x1="305.3" y1="117.08" x2="305.3" y2="118.48" stroke="#999" stroke-width="0.4" />
<line x1="304.3" y1="117.08" x2="306.3" y2="117.08" stroke="#999" stroke-width="0.4" />
<line x1="304.3" y1="118.48" x2="306.3" y2="118.48" stroke="#999" stroke-width="0.4" />
<circle cx="323.83" cy="93.81" r="2.1" fill="#66cc77" fill-opacity="0.1" stroke="#66cc77" stroke-opacity="0.8" stroke-width="0.8"/>
<line x1="323.83" y1="93.11" x2="323.83" y2="94.51" stroke="#999" stroke-width="0.4" />
<line x1="322.83" y1="93.11" x2="324.83" y2="93.11" stroke="#999" stroke-width="0.4" />
<line x1="322.83" y1="94.51" x2="324.83" y2="94.51" stroke="#999" stroke-width="0.4" />
<circle cx="342.36" cy="80.03" r="2.1" fill="#66cc77" fill-opacity="0.1" stroke="#66cc77" stroke-opacity="0.8" stroke-width="0.8"/>
<line x1="342.36" y1="79.33" x2="342.36" y2="80.73" stroke="#999" stroke-width="0.4" />
<line x1="341.36" y1="79.33" x2="343.36" y2="79.33" stroke="#999" stroke-width="0.4" />
<line x1="341.36" y1="80.73" x2="343.36" y2="80.73" stroke="#999" stroke-width="0.4" />
<circle cx="360.89" cy="59.92" r="2.1" fill="#66cc77" fill-opacity="0.1" stroke="#66cc77" stroke-opacity="0.8" stroke-width="0.8"/>
<line x1="360.89" y1="59.22" x2="360.89" y2="60.62" stroke="#999" stroke-width="0.4" />
<line x1="359.89" y1="59.22" x2="361.89" y2="59.22" stroke="#999" stroke-width="0.4" />
<line x1="359.89" y1="60.62" x2="361.89" y2="60.62" stroke="#999" stroke-width="0.4" />
<circle cx="379.42" cy="52.21" r="2.1" fill="#66cc77" fill-opacity="0.1" stroke="#66cc77" stroke-opacity="0.8" stroke-width="0.8"/>
<line x1="379.42" y1="51.51" x2="379.42" y2="52.91" stroke="#999" stroke-width="0.4" />
<line x1="378.42" y1="51.51" x2="380.42" y2="51.51" stroke="#999" stroke-width="0.4" />
<line x1="378.42" y1="52.91" x2="380.42" y2="52.91" stroke="#999" stroke-width="0.4" />
<circle cx="397.95" cy="50.66" r="2.1" fill="#66cc77" fill-opacity="0.1" stroke="#66cc77" stroke-opacity="0.8" stroke-width="0.8"/>
<line x1="397.95" y1="49.96" x2="397.95" y2="51.36" stroke="#999" stroke-width="0.4" />
<line x1="396.95" y1="49.96" x2="398.95" y2="49.96" stroke="#999" stroke-width="0.4" />
<line x1="396.95" y1="51.36" x2="398.95" y2="51.36" stroke="#999" stroke-width="0.4" />
<circle cx="416.48" cy="35.32" r="2.1" fill="#66cc77" fill-opacity="0.1" stroke="#66cc77" stroke-opacity="0.8" stroke-width="0.8"/>
<line x1="416.48" y1="34.62" x2="416.48" y2="36.02" stroke="#999" stroke-width="0.4" />
<line x1="415.48" y1="34.62" x2="417.48" y2="34.62" stroke="#999" stroke-width="0.4" />
<line x1="415.48" y1="36.02" x2="417.48" y2="36.02" stroke="#999" stroke-width="0.4" />
<circle cx="435.01" cy="32.75" r="2.1" fill="#66cc77" fill-opacity="0.1" stroke="#66cc77" stroke-opacity="0.8" stroke-width="0.8"/>
<line x1="435.01" y1="32.05" x2="435.01" y2="33.45" stroke="#999" stroke-width="0.4" />
<line x1="434.01" y1="32.05" x2="436.01" y2="32.05" stroke="#999" stroke-width="0.4" />
<line x1="434.01" y1="33.45" x2="436.01" y2="33.45" stroke="#999" stroke-width="0.4" />
<circle cx="453.54" cy="28.47" r="2.1" fill="#66cc77" fill-opacity="0.1" stroke="#66cc77" stroke-opacity="0.8" stroke-width="0.8"/>
<line x1="453.54" y1="27.77" x2="453.54" y2="29.17" stroke="#999" stroke-width="0.4" />
<line x1="452.54" y1="27.77" x2="454.54" y2="27.77" stroke="#999" stroke-width="0.4" />
<line x1="452.54" y1="29.17" x2="454.54" y2="29.17" stroke="#999" stroke-width="0.4" />
<circle cx="472.07" cy="22.84" r="2.1" fill="#66cc77" fill-opacity="0.1" stroke="#66cc77" stroke-opacity="0.8" stroke-width="0.8"/>
<line x1="472.07" y1="22.14" x2="472.07" y2="23.54" stroke="#999" stroke-width="0.4" />
<line x1="471.07" y1="22.14" x2="473.07" y2="22.14" stroke="#999" stroke-width="0.4" />
<line x1="471.07" y1="23.54" x2="473.07" y2="23.54" stroke="#999" stroke-width="0.4" />
<circle cx="490.6" cy="19.14" r="2.1" fill="#66cc77" fill-opacity="0.1" stroke="#66cc77" stroke-opacity="0.8" stroke-width="0.8"/>
<line x1="490.6" y1="18.44" x2="490.6" y2="19.84" stroke="#999" stroke-width="0.4" />
<line x1="489.6" y1="18.44" x2="491.6" y2="18.44" stroke="#999" stroke-width="0.4" />
<line x1="489.6" y1="19.84" x2="491.6" y2="19.84" stroke="#999" stroke-width="0.4" />
<circle cx="305.3" cy="117.78" r="2.1" fill="#708090" fill-opacity="0.1" stroke="#708090" stroke-opacity="0.8" stroke-width="0.8"/>
<line x1="305.3" y1="117.08" x2="305.3" y2="118.48" stroke="#999" stroke-width="0.4" />
<line x1="304.3" y1="117.08" x2="306.3" y2="117.08" stroke="#999" stroke-width="0.4" />
<line x1="304.3" y1="118.48" x2="306.3" y2="118.48" stroke="#999" stroke-width="0.4" />
<circle cx="323.83" cy="93.81" r="2.1" fill="#708090" fill-opacity="0.1" stroke="#708090" stroke-opacity="0.8" stroke-width="0.8"/>
<line x1="323.83" y1="93.11" x2="323.83" y2="94.51" stroke="#999" stroke-width="0.4" />
<line x1="322.83" y1="93.11" x2="324.83" y2="93.11" stroke="#999" stroke-width="0.4" />
<line x1="322.83" y1="94.51" x2="324.83" y2="94.51" stroke="#999" stroke-width="0.4" />
<circle cx="342.36" cy="80.23" r="2.1" fill="#708090" fill-opacity="0.1" stroke="#708090" stroke-opacity="0.8" stroke-width="0.8"/>
<line x1="342.36" y1="79.53" x2="342.36" y2="80.93" stroke="#999" stroke-width="0.4" />
<line x1="341.36" y1="79.53" x2="343.36" y2="79.53" stroke="#999" stroke-width="0.4" />
<line x1="341.36" y1="80.93" x2="343.36" y2="80.93" stroke="#999" stroke-width="0.4" />
<circle cx="360.89" cy="60.17" r="2.1" fill="#708090" fill-opacity="0.1" stroke="#708090" stroke-opacity="0.8" stroke-width="0.8"/>
<line x1="360.89" y1="59.47" x2="360.89" y2="60.87" stroke="#999" stroke-width="0.4" />
<line x1="359.89" y1="59.47" x2="361.89" y2="59.47" stroke="#999" stroke-width="0.4" />
<line x1="359.89" y1="60.87" x2="361.89" y2="60.87" stroke="#999" stroke-width="0.4" />
<circle cx="379.42" cy="52.51" r="2.1" fill="#708090" fill-opacity="0.1" stroke="#708090" stroke-opacity="0.8" stroke-width="0.8"/>
<line x1="379.42" y1="51.81" x2="379.42" y2="53.21" stroke="#999" stroke-width="0.4" />
<line x1="378.42" y1="51.81" x2="380.42" y2="51.81" stroke="#999" stroke-width="0.4" />
<line x1="378.42" y1="53.21" x2="380.42" y2="53.21" stroke="#999" stroke-width="0.4" />
<circle cx="397.95" cy="50.94" r="2.1" fill="#708090" fill-opacity="0.1" stroke="#708090" stroke-opacity="0.8" stroke-width="0.8"/>
<line x1="397.95" y1="50.24" x2="397.95" y2="51.64" stroke="#999" stroke-width="0.4" />
<line x1="396.95" y1="50.24" x2="398.95" y2="50.24" stroke="#999" stroke-width="0.4" />
<line x1="396.95" y1="51.64" x2="398.95" y2="51.64" stroke="#999" stroke-width="0.4" />
<circle cx="416.48" cy="35.64" r="2.1" fill="#708090" fill-opacity="0.1" stroke="#708090" stroke-opacity="0.8" stroke-width="0.8"/>
<line x1="416.48" y1="34.94" x2="416.48" y2="36.34" stroke="#999" stroke-width="0.4" />
<line x1="415.48" y1="34.94" x2="417.48" y2="34.94" stroke="#999" stroke-width="0.4" />
<line x1="415.48" y1="36.34" x2="417.48" y2="36.34" stroke="#999" stroke-width="0.4" />
<circle cx="435.01" cy="33.03" r="2.1" fill="#708090" fill-opacity="0.1" stroke="#708090" stroke-opacity="0.8" stroke-width="0.8"/>
<line x1="435.01" y1="32.33" x2="435.01" y2="33.73" stroke="#999" stroke-width="0.4" />
<line x1="434.01" y1="32.33" x2="436.01" y2="32.33" stroke="#999" stroke-width="0.4" />
<line x1="434.01" y1="33.73" x2="436.01" y2="33.73" stroke="#999" stroke-width="0.4" />
<circle cx="453.54" cy="28.63" r="2.1" fill="#708090" fill-opacity="0.1" stroke="#708090" stroke-opacity="0.8" stroke-width="0.8"/>
<line x1="453.54" y1="27.93" x2="453.54" y2="29.33" stroke="#999" stroke-width="0.4" />
<line x1="452.54" y1="27.93" x2="454.54" y2="27.93" stroke="#999" stroke-width="0.4" />
<line x1="452.54" y1="29.33" x2="454.54" y2="29.33" stroke="#999" stroke-width="0.4" />
<circle cx="472.07" cy="23.06" r="2.1" fill="#708090" fill-opacity="0.1" stroke="#708090" stroke-opacity="0.8" stroke-width="0.8"/>
<line x1="472.07" y1="22.36" x2="472.07" y2="23.76" stroke="#999" stroke-width="0.4" />
<line x1="471.07" y1="22.36" x2="473.07" y2="22.36" stroke="#999" stroke-width="0.4" />
<line x1="471.07" y1="23.76" x2="473.07" y2="23.76" stroke="#999" stroke-width="0.4" />
<circle cx="490.6" cy="19.21" r="2.1" fill="#708090" fill-opacity="0.1" stroke="#708090" stroke-opacity="0.8" stroke-width="0.8"/>
<line x1="490.6" y1="18.51" x2="490.6" y2="19.91" stroke="#999" stroke-width="0.4" />
<line x1="489.6" y1="18.51" x2="491.6" y2="18.51" stroke="#999" stroke-width="0.4" />
<line x1="489.6" y1="19.91" x2="491.6" y2="19.91" stroke="#999" stroke-width="0.4" />
<circle cx="305.3" cy="117.78" r="2.1" fill="#6495ed" fill-opacity="0.1" stroke="#6495ed" stroke-opacity="0.8" stroke-width="0.8"/>
<line x1="305.3" y1="117.08" x2="305.3" y2="118.48" stroke="#999" stroke-width="0.4" />
<line x1="304.3" y1="117.08" x2="306.3" y2="117.08" stroke="#999" stroke-width="0.4" />
<line x1="304.3" y1="118.48" x2="306.3" y2="118.48" stroke="#999" stroke-width="0.4" />
<circle cx="323.83" cy="93.81" r="2.1" fill="#6495ed" fill-opacity="0.1" stroke="#6495ed" stroke-opacity="0.8" stroke-width="0.8"/>
<line x1="323.83" y1="93.11" x2="323.83" y2="94.51" stroke="#999" stroke-width="0.4" />
<line x1="322.83" y1="93.11" x2="324.83" y2="93.11" stroke="#999" stroke-width="0.4" />
<line x1="322.83" y1="94.51" x2="324.83" y2="94.51" stroke="#999" stroke-width="0.4" />
<circle cx="342.36" cy="80.38" r="2.1" fill="#6495ed" fill-opacity="0.1" stroke="#6495ed" stroke-opacity="0.8" stroke-width="0.8"/>
<line x1="342.36" y1="79.68" x2="342.36" y2="81.08" stroke="#999" stroke-width="0.4" />
<line x1="341.36" y1="79.68" x2="343.36" y2="79.68" stroke="#999" stroke-width="0.4" />
<line x1="341.36" y1="81.08" x2="343.36" y2="81.08" stroke="#999" stroke-width="0.4" />
<circle cx="360.89" cy="60.36" r="2.1" fill="#6495ed" fill-opacity="0.1" stroke="#6495ed" stroke-opacity="0.8" stroke-width="0.8"/>
<line x1="360.89" y1="59.66" x2="360.89" y2="61.06" stroke="#999" stroke-width="0.4" />
<line x1="359.89" y1="59.66" x2="361.89" y2="59.66" stroke="#999" stroke-width="0.4" />
<line x1="359.89" y1="61.06" x2="361.89" y2="61.06" stroke="#999" stroke-width="0.4" />
<circle cx="379.42" cy="52.72" r="2.1" fill="#6495ed" fill-opacity="0.1" stroke="#6495ed" stroke-opacity="0.8" stroke-width="0.8"/>
<line x1="379.42" y1="52.02" x2="379.42" y2="53.42" stroke="#999" stroke-width="0.4" />
<line x1="378.42" y1="52.02" x2="380.42" y2="52.02" stroke="#999" stroke-width="0.4" />
<line x1="378.42" y1="53.42" x2="380.42" y2="53.42" stroke="#999" stroke-width="0.4" />
<circle cx="397.95" cy="51.14" r="2.1" fill="#6495ed" fill-opacity="0.1" stroke="#6495ed" stroke-opacity="0.8" stroke-width="0.8"/>
<line x1="397.95" y1="50.44" x2="397.95" y2="51.84" stroke="#999" stroke-width="0.4" />
<line x1="396.95" y1="50.44" x2="398.95" y2="50.44" stroke="#999" stroke-width="0.4" />
<line x1="396.95" y1="51.84" x2="398.95" y2="51.84" stroke="#999" stroke-width="0.4" />
<circle cx="416.48" cy="35.86" r="2.1" fill="#6495ed" fill-opacity="0.1" stroke="#6495ed" stroke-opacity="0.8" stroke-width="0.8"/>
<line x1="416.48" y1="35.16" x2="416.48" y2="36.56" stroke="#999" stroke-width="0.4" />
<line x1="415.48" y1="35.16" x2="417.48" y2="35.16" stroke="#999" stroke-width="0.4" />
<line x1="415.48" y1="36.56" x2="417.48" y2="36.56" stroke="#999" stroke-width="0.4" />
<circle cx="435.01" cy="33.23" r="2.1" fill="#6495ed" fill-opacity="0.1" stroke="#6495ed" stroke-opacity="0.8" stroke-width="0.8"/>
<line x1="435.01" y1="32.53" x2="435.01" y2="33.93" stroke="#999" stroke-width="0.4" />
<line x1="434.01" y1="32.53" x2="436.01" y2="32.53" stroke="#999" stroke-width="0.4" />
<line x1="434.01" y1="33.93" x2="436.01" y2="33.93" stroke="#999" stroke-width="0.4" />
<circle cx="453.54" cy="28.75" r="2.1" fill="#6495ed" fill-opacity="0.1" stroke="#6495ed" stroke-opacity="0.8" stroke-width="0.8"/>
<line x1="453.54" y1="28.05" x2="453.54" y2="29.45" stroke="#999" stroke-width="0.4" />
<line x1="452.54" y1="28.05" x2="454.54" y2="28.05" stroke="#999" stroke-width="0.4" />
<line x1="452.54" y1="29.45" x2="454.54" y2="29.45" stroke="#999" stroke-width="0.4" />
<circle cx="472.07" cy="23.22" r="2.1" fill="#6495ed" fill-opacity="0.1" stroke="#6495ed" stroke-opacity="0.8" stroke-width="0.8"/>
<line x1="472.07" y1="22.52" x2="472.07" y2="23.92" stroke="#999" stroke-width="0.4" />
<line x1="471.07" y1="22.52" x2="473.07" y2="22.52" stroke="#999" stroke-width="0.4" />
<line x1="471.07" y1="23.92" x2="473.07" y2="23.92" stroke="#999" stroke-width="0.4" />
<circle cx="490.6" cy="19.27" r="2.1" fill="#6495ed" fill-opacity="0.1" stroke="#6495ed" stroke-opacity="0.8" stroke-width="0.8"/>
<line x1="490.6" y1="18.57" x2="490.6" y2="19.97" stroke="#999" stroke-width="0.4" />
<line x1="489.6" y1="18.57" x2="491.6" y2="18.57" stroke="#999" stroke-width="0.4" />
<line x1="489.6" y1="19.97" x2="491.6" y2="19.97" stroke="#999" stroke-width="0.4" />
<rect x="296.1" y="3.2" width="203.5" height="131.7" fill="none" stroke="#8a8a8a" stroke-width="1.5"/>
<line x1="305.3" y1="134.9" x2="305.3" y2="137.5" stroke="#333" stroke-width="0.9" />
<text transform="translate(303.53 145.2) scale(0.9761 1)" x="-0.33" y="0" font-size="8.42" fill="#1a1a1a" stroke="#1a1a1a" stroke-width="0.12">0</text>
<line x1="342.36" y1="134.9" x2="342.36" y2="137.5" stroke="#333" stroke-width="0.9" />
<text transform="translate(340.75 145.2) scale(0.9408 1)" x="-0.42" y="0" font-size="8.42" fill="#1a1a1a" stroke="#1a1a1a" stroke-width="0.12">2</text>
<line x1="379.42" y1="134.9" x2="379.42" y2="137.5" stroke="#333" stroke-width="0.9" />
<text transform="translate(377.55 145.2) scale(0.9762 1)" x="-0.19" y="0" font-size="8.42" fill="#1a1a1a" stroke="#1a1a1a" stroke-width="0.12">4</text>
<line x1="416.48" y1="134.9" x2="416.48" y2="137.5" stroke="#333" stroke-width="0.9" />
<text transform="translate(414.72 145.2) scale(1.0102 1)" x="-0.43" y="0" font-size="8.42" fill="#1a1a1a" stroke="#1a1a1a" stroke-width="0.12">6</text>
<line x1="453.54" y1="134.9" x2="453.54" y2="137.5" stroke="#333" stroke-width="0.9" />
<text transform="translate(451.79 145.2) scale(0.9866 1)" x="-0.37" y="0" font-size="8.42" fill="#1a1a1a" stroke="#1a1a1a" stroke-width="0.12">8</text>
<line x1="490.6" y1="134.9" x2="490.6" y2="137.5" stroke="#333" stroke-width="0.9" />
<text transform="translate(486.52 145.2) scale(1.0180 1)" x="-0.64" y="0" font-size="8.42" fill="#1a1a1a" stroke="#1a1a1a" stroke-width="0.12">10</text>
<line x1="293.5" y1="134.9" x2="296.1" y2="134.9" stroke="#333" stroke-width="0.9" />
<text transform="translate(279.83 137.75) scale(1.0290 1)" x="-0.33" y="0" font-size="8.42" fill="#1a1a1a" stroke="#1a1a1a" stroke-width="0.12">0.0</text>
<line x1="293.5" y1="108.56" x2="296.1" y2="108.56" stroke="#333" stroke-width="0.9" />
<text transform="translate(280.03 111.41) scale(1.0183 1)" x="-0.33" y="0" font-size="8.42" fill="#1a1a1a" stroke="#1a1a1a" stroke-width="0.12">0.1</text>
<line x1="293.5" y1="82.22" x2="296.1" y2="82.22" stroke="#333" stroke-width="0.9" />
<text transform="translate(280.09 85.07) scale(1.0139 1)" x="-0.33" y="0" font-size="8.42" fill="#1a1a1a" stroke="#1a1a1a" stroke-width="0.12">0.2</text>
<line x1="293.5" y1="55.88" x2="296.1" y2="55.88" stroke="#333" stroke-width="0.9" />
<text transform="translate(279.93 58.73) scale(1.0231 1)" x="-0.33" y="0" font-size="8.42" fill="#1a1a1a" stroke="#1a1a1a" stroke-width="0.12">0.3</text>
<line x1="293.5" y1="29.54" x2="296.1" y2="29.54" stroke="#333" stroke-width="0.9" />
<text transform="translate(279.75 32.39) scale(1.0285 1)" x="-0.33" y="0" font-size="8.42" fill="#1a1a1a" stroke="#1a1a1a" stroke-width="0.12">0.4</text>
<line x1="293.5" y1="3.2" x2="296.1" y2="3.2" stroke="#333" stroke-width="0.9" />
<text transform="translate(279.99 6.05) scale(1.0164 1)" x="-0.33" y="0" font-size="8.42" fill="#1a1a1a" stroke="#1a1a1a" stroke-width="0.12">0.5</text>
<text transform="translate(385.5 155.5) scale(1.0000 1)" x="-0.7" y="0" font-size="8.53" fill="#1a1a1a" stroke="#1a1a1a" stroke-width="0.12">Rounds</text>
<text transform="translate(275.4 93.05) rotate(-90) scale(1.0270 1)" x="-0.7" y="0" font-size="8.48" fill="#1a1a1a" stroke="#1a1a1a" stroke-width="0.12">Logical Error</text>
<text transform="translate(259.5 7.4) scale(1.1157 1)" x="-0.6" y="0" font-size="9.72" fill="#1a1a1a" stroke="#1a1a1a" stroke-width="0.05">(c)</text>
<line x1="306.5" y1="11" x2="306.5" y2="20" stroke="#1a1a1a" stroke-width="0.85" />
<line x1="308.93" y1="15.5" x2="313.97" y2="15.5" stroke="#1a1a1a" stroke-width="0.8075" />
<line x1="311.5" y1="12.98" x2="311.5" y2="18.02" stroke="#1a1a1a" stroke-width="0.8075" />
<path d="M315.41 11 Q320.02 15.5 315.41 20" fill="none" stroke="#1a1a1a" stroke-width="0.77"/>
<text transform="translate(318.38 22.43) scale(0.9526 1)" x="-0.52" y="0" font-size="6.37" fill="#1a1a1a" stroke="#1a1a1a" stroke-width="0.12">L</text>
<rect x="370.6" y="84.5" width="118.6" height="43.5" rx="1.6" fill="#fff" fill-opacity="0.8" stroke="#cccccc" stroke-width="0.8"/>
<line x1="379.6" y1="89.2" x2="379.6" y2="95.4" stroke="#808080" stroke-width="0.7" />
<line x1="378.5" y1="89.2" x2="380.7" y2="89.2" stroke="#808080" stroke-width="0.7" />
<line x1="378.5" y1="95.4" x2="380.7" y2="95.4" stroke="#808080" stroke-width="0.7" />
<circle cx="379.6" cy="92.3" r="1.9" fill="#ee82ee" fill-opacity="0.4" stroke="#ee82ee" stroke-width="0.8"/>
<text transform="translate(386.9 94.6) scale(1.0529 1)" x="-0.62" y="0" font-size="7.61" fill="#1a1a1a" stroke="#1a1a1a" stroke-width="0.12">Matching (Uniform)</text>
<line x1="379.6" y1="98.5" x2="379.6" y2="104.7" stroke="#808080" stroke-width="0.7" />
<line x1="378.5" y1="98.5" x2="380.7" y2="98.5" stroke="#808080" stroke-width="0.7" />
<line x1="378.5" y1="104.7" x2="380.7" y2="104.7" stroke="#808080" stroke-width="0.7" />
<circle cx="379.6" cy="101.6" r="1.9" fill="#66cc77" fill-opacity="0.4" stroke="#66cc77" stroke-width="0.8"/>
<text transform="translate(386.9 103.9) scale(1.0562 1)" x="-0.62" y="0" font-size="7.61" fill="#1a1a1a" stroke="#1a1a1a" stroke-width="0.12">Matching (Analytical)</text>
<line x1="379.6" y1="107.9" x2="379.6" y2="114.1" stroke="#808080" stroke-width="0.7" />
<line x1="378.5" y1="107.9" x2="380.7" y2="107.9" stroke="#808080" stroke-width="0.7" />
<line x1="378.5" y1="114.1" x2="380.7" y2="114.1" stroke="#808080" stroke-width="0.7" />
<circle cx="379.6" cy="111.0" r="1.9" fill="#708090" fill-opacity="0.4" stroke="#708090" stroke-width="0.8"/>
<text transform="translate(386.9 113.3) scale(1.0544 1)" x="-0.62" y="0" font-size="7.61" fill="#1a1a1a" stroke="#1a1a1a" stroke-width="0.12">Matching (Analytical w/Soft)</text>
<line x1="379.6" y1="117.4" x2="379.6" y2="123.6" stroke="#808080" stroke-width="0.7" />
<line x1="378.5" y1="117.4" x2="380.7" y2="117.4" stroke="#808080" stroke-width="0.7" />
<line x1="378.5" y1="123.6" x2="380.7" y2="123.6" stroke="#808080" stroke-width="0.7" />
<circle cx="379.6" cy="120.5" r="1.9" fill="#6495ed" fill-opacity="0.4" stroke="#6495ed" stroke-width="0.8"/>
<text transform="translate(386.9 122.8) scale(1.0462 1)" x="-0.62" y="0" font-size="7.61" fill="#1a1a1a" stroke="#1a1a1a" stroke-width="0.12">Maximum Likelihood</text>
<line x1="303.5" y1="165.7" x2="303.5" y2="297.2" stroke="#c8c8c8" stroke-width="0.85" stroke-dasharray="2.1 0.8"/>
<line x1="340.5" y1="165.7" x2="340.5" y2="297.2" stroke="#c8c8c8" stroke-width="0.85" stroke-dasharray="2.1 0.8"/>
<line x1="377.5" y1="165.7" x2="377.5" y2="297.2" stroke="#c8c8c8" stroke-width="0.85" stroke-dasharray="2.1 0.8"/>
<line x1="414.5" y1="165.7" x2="414.5" y2="297.2" stroke="#c8c8c8" stroke-width="0.85" stroke-dasharray="2.1 0.8"/>
<line x1="451.5" y1="165.7" x2="451.5" y2="297.2" stroke="#c8c8c8" stroke-width="0.85" stroke-dasharray="2.1 0.8"/>
<line x1="488.5" y1="165.7" x2="488.5" y2="297.2" stroke="#c8c8c8" stroke-width="0.85" stroke-dasharray="2.1 0.8"/>
<line x1="294.2" y1="259.5" x2="497.6" y2="259.5" stroke="#c8c8c8" stroke-width="0.85" stroke-dasharray="2.1 0.8"/>
<line x1="294.2" y1="221.8" x2="497.6" y2="221.8" stroke="#c8c8c8" stroke-width="0.85" stroke-dasharray="2.1 0.8"/>
<line x1="294.2" y1="184.1" x2="497.6" y2="184.1" stroke="#c8c8c8" stroke-width="0.85" stroke-dasharray="2.1 0.8"/>
<polyline points="303.5,288.9 308.1,284.7 312.8,280.5 317.4,276.5 322.0,272.5 326.6,268.6 331.2,264.9 335.9,261.2 340.5,257.6 345.1,254.1 349.8,250.7 354.4,247.3 359.0,244.1 363.6,240.9 368.2,237.8 372.9,234.8 377.5,231.8 382.1,228.9 386.8,226.1 391.4,223.3 396.0,220.7 400.6,218.0 405.2,215.5 409.9,213.0 414.5,210.5 419.1,208.2 423.8,205.8 428.4,203.6 433.0,201.3 437.6,199.2 442.2,197.1 446.9,195.0 451.5,193.0 456.1,191.0 460.8,189.1 465.4,187.3 470.0,185.4 474.6,183.7 479.2,181.9 483.9,180.2 488.5,178.6" fill="none" stroke="#ee82ee" stroke-width="1.1" stroke-dasharray="0.95 1.25" />
<polyline points="303.5,289.2 308.1,285.3 312.8,281.6 317.4,277.9 322.0,274.4 326.6,270.9 331.2,267.5 335.9,264.1 340.5,260.8 345.1,257.6 349.8,254.5 354.4,251.4 359.0,248.4 363.6,245.5 368.2,242.6 372.9,239.8 377.5,237.1 382.1,234.4 386.8,231.8 391.4,229.2 396.0,226.7 400.6,224.3 405.2,221.9 409.9,219.5 414.5,217.2 419.1,215.0 423.8,212.8 428.4,210.6 433.0,208.5 437.6,206.5 442.2,204.5 446.9,202.5 451.5,200.6 456.1,198.7 460.8,196.8 465.4,195.0 470.0,193.3 474.6,191.6 479.2,189.9 483.9,188.2 488.5,186.6" fill="none" stroke="#3c9a50" stroke-width="1.1" stroke-dasharray="0.95 1.25" />
<polyline points="303.5,289.2 308.1,285.6 312.8,282.1 317.4,278.7 322.0,275.3 326.6,272.0 331.2,268.8 335.9,265.6 340.5,262.5 345.1,259.5 349.8,256.5 354.4,253.6 359.0,250.8 363.6,248.0 368.2,245.3 372.9,242.6 377.5,240.0 382.1,237.4 386.8,234.9 391.4,232.5 396.0,230.0 400.6,227.7 405.2,225.4 409.9,223.1 414.5,220.9 419.1,218.7 423.8,216.6 428.4,214.5 433.0,212.5 437.6,210.5 442.2,208.5 446.9,206.6 451.5,204.7 456.1,202.9 460.8,201.1 465.4,199.4 470.0,197.6 474.6,195.9 479.2,194.3 483.9,192.7 488.5,191.1" fill="none" stroke="#6a7888" stroke-width="1.1" stroke-dasharray="0.95 1.25" />
<polyline points="303.5,289.2 308.1,285.8 312.8,282.6 317.4,279.4 322.0,276.2 326.6,273.1 331.2,270.1 335.9,267.1 340.5,264.2 345.1,261.3 349.8,258.5 354.4,255.8 359.0,253.1 363.6,250.4 368.2,247.8 372.9,245.3 377.5,242.8 382.1,240.3 386.8,237.9 391.4,235.5 396.0,233.2 400.6,230.9 405.2,228.7 409.9,226.5 414.5,224.3 419.1,222.2 423.8,220.2 428.4,218.1 433.0,216.1 437.6,214.2 442.2,212.2 446.9,210.4 451.5,208.5 456.1,206.7 460.8,204.9 465.4,203.2 470.0,201.5 474.6,199.8 479.2,198.1 483.9,196.5 488.5,194.9" fill="none" stroke="#6495ed" stroke-width="1.1" stroke-dasharray="0.95 1.25" />
<circle cx="303.5" cy="289.28" r="2.1" fill="#ee82ee" fill-opacity="0.1" stroke="#ee82ee" stroke-opacity="0.8" stroke-width="0.8"/>
<line x1="303.5" y1="288.58" x2="303.5" y2="289.98" stroke="#999" stroke-width="0.4" />
<line x1="302.5" y1="288.58" x2="304.5" y2="288.58" stroke="#999" stroke-width="0.4" />
<line x1="302.5" y1="289.98" x2="304.5" y2="289.98" stroke="#999" stroke-width="0.4" />
<circle cx="322" cy="274.2" r="2.1" fill="#ee82ee" fill-opacity="0.1" stroke="#ee82ee" stroke-opacity="0.8" stroke-width="0.8"/>
<line x1="322" y1="273.5" x2="322" y2="274.9" stroke="#999" stroke-width="0.4" />
<line x1="321" y1="273.5" x2="323" y2="273.5" stroke="#999" stroke-width="0.4" />
<line x1="321" y1="274.9" x2="323" y2="274.9" stroke="#999" stroke-width="0.4" />
<circle cx="340.5" cy="260.25" r="2.1" fill="#ee82ee" fill-opacity="0.1" stroke="#ee82ee" stroke-opacity="0.8" stroke-width="0.8"/>
<line x1="340.5" y1="259.55" x2="340.5" y2="260.95" stroke="#999" stroke-width="0.4" />
<line x1="339.5" y1="259.55" x2="341.5" y2="259.55" stroke="#999" stroke-width="0.4" />
<line x1="339.5" y1="260.95" x2="341.5" y2="260.95" stroke="#999" stroke-width="0.4" />
<circle cx="359" cy="250.45" r="2.1" fill="#ee82ee" fill-opacity="0.1" stroke="#ee82ee" stroke-opacity="0.8" stroke-width="0.8"/>
<line x1="359" y1="249.75" x2="359" y2="251.15" stroke="#999" stroke-width="0.4" />
<line x1="358" y1="249.75" x2="360" y2="249.75" stroke="#999" stroke-width="0.4" />
<line x1="358" y1="251.15" x2="360" y2="251.15" stroke="#999" stroke-width="0.4" />
<circle cx="377.5" cy="233.11" r="2.1" fill="#ee82ee" fill-opacity="0.1" stroke="#ee82ee" stroke-opacity="0.8" stroke-width="0.8"/>
<line x1="377.5" y1="232.41" x2="377.5" y2="233.81" stroke="#999" stroke-width="0.4" />
<line x1="376.5" y1="232.41" x2="378.5" y2="232.41" stroke="#999" stroke-width="0.4" />
<line x1="376.5" y1="233.81" x2="378.5" y2="233.81" stroke="#999" stroke-width="0.4" />
<circle cx="396" cy="222.93" r="2.1" fill="#ee82ee" fill-opacity="0.1" stroke="#ee82ee" stroke-opacity="0.8" stroke-width="0.8"/>
<line x1="396" y1="222.23" x2="396" y2="223.63" stroke="#999" stroke-width="0.4" />
<line x1="395" y1="222.23" x2="397" y2="222.23" stroke="#999" stroke-width="0.4" />
<line x1="395" y1="223.63" x2="397" y2="223.63" stroke="#999" stroke-width="0.4" />
<circle cx="414.5" cy="210.87" r="2.1" fill="#ee82ee" fill-opacity="0.1" stroke="#ee82ee" stroke-opacity="0.8" stroke-width="0.8"/>
<line x1="414.5" y1="210.17" x2="414.5" y2="211.57" stroke="#999" stroke-width="0.4" />
<line x1="413.5" y1="210.17" x2="415.5" y2="210.17" stroke="#999" stroke-width="0.4" />
<line x1="413.5" y1="211.57" x2="415.5" y2="211.57" stroke="#999" stroke-width="0.4" />
<circle cx="433" cy="204.83" r="2.1" fill="#ee82ee" fill-opacity="0.1" stroke="#ee82ee" stroke-opacity="0.8" stroke-width="0.8"/>
<line x1="433" y1="204.13" x2="433" y2="205.53" stroke="#999" stroke-width="0.4" />
<line x1="432" y1="204.13" x2="434" y2="204.13" stroke="#999" stroke-width="0.4" />
<line x1="432" y1="205.53" x2="434" y2="205.53" stroke="#999" stroke-width="0.4" />
<circle cx="451.5" cy="192.02" r="2.1" fill="#ee82ee" fill-opacity="0.1" stroke="#ee82ee" stroke-opacity="0.8" stroke-width="0.8"/>
<line x1="451.5" y1="191.32" x2="451.5" y2="192.72" stroke="#999" stroke-width="0.4" />
<line x1="450.5" y1="191.32" x2="452.5" y2="191.32" stroke="#999" stroke-width="0.4" />
<line x1="450.5" y1="192.72" x2="452.5" y2="192.72" stroke="#999" stroke-width="0.4" />
<circle cx="470" cy="183.72" r="2.1" fill="#ee82ee" fill-opacity="0.1" stroke="#ee82ee" stroke-opacity="0.8" stroke-width="0.8"/>
<line x1="470" y1="183.02" x2="470" y2="184.42" stroke="#999" stroke-width="0.4" />
<line x1="469" y1="183.02" x2="471" y2="183.02" stroke="#999" stroke-width="0.4" />
<line x1="469" y1="184.42" x2="471" y2="184.42" stroke="#999" stroke-width="0.4" />
<circle cx="488.5" cy="177.69" r="2.1" fill="#ee82ee" fill-opacity="0.1" stroke="#ee82ee" stroke-opacity="0.8" stroke-width="0.8"/>
<line x1="488.5" y1="176.99" x2="488.5" y2="178.39" stroke="#999" stroke-width="0.4" />
<line x1="487.5" y1="176.99" x2="489.5" y2="176.99" stroke="#999" stroke-width="0.4" />
<line x1="487.5" y1="178.39" x2="489.5" y2="178.39" stroke="#999" stroke-width="0.4" />
<circle cx="303.5" cy="289.28" r="2.1" fill="#66cc77" fill-opacity="0.1" stroke="#66cc77" stroke-opacity="0.8" stroke-width="0.8"/>
<line x1="303.5" y1="288.58" x2="303.5" y2="289.98" stroke="#999" stroke-width="0.4" />
<line x1="302.5" y1="288.58" x2="304.5" y2="288.58" stroke="#999" stroke-width="0.4" />
<line x1="302.5" y1="289.98" x2="304.5" y2="289.98" stroke="#999" stroke-width="0.4" />
<circle cx="322" cy="271.94" r="2.1" fill="#66cc77" fill-opacity="0.1" stroke="#66cc77" stroke-opacity="0.8" stroke-width="0.8"/>
<line x1="322" y1="271.24" x2="322" y2="272.64" stroke="#999" stroke-width="0.4" />
<line x1="321" y1="271.24" x2="323" y2="271.24" stroke="#999" stroke-width="0.4" />
<line x1="321" y1="272.64" x2="323" y2="272.64" stroke="#999" stroke-width="0.4" />
<circle cx="340.5" cy="261.76" r="2.1" fill="#66cc77" fill-opacity="0.1" stroke="#66cc77" stroke-opacity="0.8" stroke-width="0.8"/>
<line x1="340.5" y1="261.06" x2="340.5" y2="262.46" stroke="#999" stroke-width="0.4" />
<line x1="339.5" y1="261.06" x2="341.5" y2="261.06" stroke="#999" stroke-width="0.4" />
<line x1="339.5" y1="262.46" x2="341.5" y2="262.46" stroke="#999" stroke-width="0.4" />
<circle cx="359" cy="251.96" r="2.1" fill="#66cc77" fill-opacity="0.1" stroke="#66cc77" stroke-opacity="0.8" stroke-width="0.8"/>
<line x1="359" y1="251.26" x2="359" y2="252.66" stroke="#999" stroke-width="0.4" />
<line x1="358" y1="251.26" x2="360" y2="251.26" stroke="#999" stroke-width="0.4" />
<line x1="358" y1="252.66" x2="360" y2="252.66" stroke="#999" stroke-width="0.4" />
<circle cx="377.5" cy="234.99" r="2.1" fill="#66cc77" fill-opacity="0.1" stroke="#66cc77" stroke-opacity="0.8" stroke-width="0.8"/>
<line x1="377.5" y1="234.29" x2="377.5" y2="235.69" stroke="#999" stroke-width="0.4" />
<line x1="376.5" y1="234.29" x2="378.5" y2="234.29" stroke="#999" stroke-width="0.4" />
<line x1="376.5" y1="235.69" x2="378.5" y2="235.69" stroke="#999" stroke-width="0.4" />
<circle cx="396" cy="228.21" r="2.1" fill="#66cc77" fill-opacity="0.1" stroke="#66cc77" stroke-opacity="0.8" stroke-width="0.8"/>
<line x1="396" y1="227.51" x2="396" y2="228.91" stroke="#999" stroke-width="0.4" />
<line x1="395" y1="227.51" x2="397" y2="227.51" stroke="#999" stroke-width="0.4" />
<line x1="395" y1="228.91" x2="397" y2="228.91" stroke="#999" stroke-width="0.4" />
<circle cx="414.5" cy="212.75" r="2.1" fill="#66cc77" fill-opacity="0.1" stroke="#66cc77" stroke-opacity="0.8" stroke-width="0.8"/>
<line x1="414.5" y1="212.05" x2="414.5" y2="213.45" stroke="#999" stroke-width="0.4" />
<line x1="413.5" y1="212.05" x2="415.5" y2="212.05" stroke="#999" stroke-width="0.4" />
<line x1="413.5" y1="213.45" x2="415.5" y2="213.45" stroke="#999" stroke-width="0.4" />
<circle cx="433" cy="211.24" r="2.1" fill="#66cc77" fill-opacity="0.1" stroke="#66cc77" stroke-opacity="0.8" stroke-width="0.8"/>
<line x1="433" y1="210.54" x2="433" y2="211.94" stroke="#999" stroke-width="0.4" />
<line x1="432" y1="210.54" x2="434" y2="210.54" stroke="#999" stroke-width="0.4" />
<line x1="432" y1="211.94" x2="434" y2="211.94" stroke="#999" stroke-width="0.4" />
<circle cx="451.5" cy="199.56" r="2.1" fill="#66cc77" fill-opacity="0.1" stroke="#66cc77" stroke-opacity="0.8" stroke-width="0.8"/>
<line x1="451.5" y1="198.86" x2="451.5" y2="200.26" stroke="#999" stroke-width="0.4" />
<line x1="450.5" y1="198.86" x2="452.5" y2="198.86" stroke="#999" stroke-width="0.4" />
<line x1="450.5" y1="200.26" x2="452.5" y2="200.26" stroke="#999" stroke-width="0.4" />
<circle cx="470" cy="189" r="2.1" fill="#66cc77" fill-opacity="0.1" stroke="#66cc77" stroke-opacity="0.8" stroke-width="0.8"/>
<line x1="470" y1="188.3" x2="470" y2="189.7" stroke="#999" stroke-width="0.4" />
<line x1="469" y1="188.3" x2="471" y2="188.3" stroke="#999" stroke-width="0.4" />
<line x1="469" y1="189.7" x2="471" y2="189.7" stroke="#999" stroke-width="0.4" />
<circle cx="488.5" cy="186.36" r="2.1" fill="#66cc77" fill-opacity="0.1" stroke="#66cc77" stroke-opacity="0.8" stroke-width="0.8"/>
<line x1="488.5" y1="185.66" x2="488.5" y2="187.06" stroke="#999" stroke-width="0.4" />
<line x1="487.5" y1="185.66" x2="489.5" y2="185.66" stroke="#999" stroke-width="0.4" />
<line x1="487.5" y1="187.06" x2="489.5" y2="187.06" stroke="#999" stroke-width="0.4" />
<circle cx="303.5" cy="289.28" r="2.1" fill="#708090" fill-opacity="0.1" stroke="#708090" stroke-opacity="0.8" stroke-width="0.8"/>
<line x1="303.5" y1="288.58" x2="303.5" y2="289.98" stroke="#999" stroke-width="0.4" />
<line x1="302.5" y1="288.58" x2="304.5" y2="288.58" stroke="#999" stroke-width="0.4" />
<line x1="302.5" y1="289.98" x2="304.5" y2="289.98" stroke="#999" stroke-width="0.4" />
<circle cx="322" cy="274.2" r="2.1" fill="#708090" fill-opacity="0.1" stroke="#708090" stroke-opacity="0.8" stroke-width="0.8"/>
<line x1="322" y1="273.5" x2="322" y2="274.9" stroke="#999" stroke-width="0.4" />
<line x1="321" y1="273.5" x2="323" y2="273.5" stroke="#999" stroke-width="0.4" />
<line x1="321" y1="274.9" x2="323" y2="274.9" stroke="#999" stroke-width="0.4" />
<circle cx="340.5" cy="263.65" r="2.1" fill="#708090" fill-opacity="0.1" stroke="#708090" stroke-opacity="0.8" stroke-width="0.8"/>
<line x1="340.5" y1="262.95" x2="340.5" y2="264.35" stroke="#999" stroke-width="0.4" />
<line x1="339.5" y1="262.95" x2="341.5" y2="262.95" stroke="#999" stroke-width="0.4" />
<line x1="339.5" y1="264.35" x2="341.5" y2="264.35" stroke="#999" stroke-width="0.4" />
<circle cx="359" cy="253.84" r="2.1" fill="#708090" fill-opacity="0.1" stroke="#708090" stroke-opacity="0.8" stroke-width="0.8"/>
<line x1="359" y1="253.14" x2="359" y2="254.54" stroke="#999" stroke-width="0.4" />
<line x1="358" y1="253.14" x2="360" y2="253.14" stroke="#999" stroke-width="0.4" />
<line x1="358" y1="254.54" x2="360" y2="254.54" stroke="#999" stroke-width="0.4" />
<circle cx="377.5" cy="237.63" r="2.1" fill="#708090" fill-opacity="0.1" stroke="#708090" stroke-opacity="0.8" stroke-width="0.8"/>
<line x1="377.5" y1="236.93" x2="377.5" y2="238.33" stroke="#999" stroke-width="0.4" />
<line x1="376.5" y1="236.93" x2="378.5" y2="236.93" stroke="#999" stroke-width="0.4" />
<line x1="376.5" y1="238.33" x2="378.5" y2="238.33" stroke="#999" stroke-width="0.4" />
<circle cx="396" cy="231.22" r="2.1" fill="#708090" fill-opacity="0.1" stroke="#708090" stroke-opacity="0.8" stroke-width="0.8"/>
<line x1="396" y1="230.53" x2="396" y2="231.92" stroke="#999" stroke-width="0.4" />
<line x1="395" y1="230.53" x2="397" y2="230.53" stroke="#999" stroke-width="0.4" />
<line x1="395" y1="231.92" x2="397" y2="231.92" stroke="#999" stroke-width="0.4" />
<circle cx="414.5" cy="216.14" r="2.1" fill="#708090" fill-opacity="0.1" stroke="#708090" stroke-opacity="0.8" stroke-width="0.8"/>
<line x1="414.5" y1="215.44" x2="414.5" y2="216.84" stroke="#999" stroke-width="0.4" />
<line x1="413.5" y1="215.44" x2="415.5" y2="215.44" stroke="#999" stroke-width="0.4" />
<line x1="413.5" y1="216.84" x2="415.5" y2="216.84" stroke="#999" stroke-width="0.4" />
<circle cx="433" cy="214.64" r="2.1" fill="#708090" fill-opacity="0.1" stroke="#708090" stroke-opacity="0.8" stroke-width="0.8"/>
<line x1="433" y1="213.94" x2="433" y2="215.34" stroke="#999" stroke-width="0.4" />
<line x1="432" y1="213.94" x2="434" y2="213.94" stroke="#999" stroke-width="0.4" />
<line x1="432" y1="215.34" x2="434" y2="215.34" stroke="#999" stroke-width="0.4" />
<circle cx="451.5" cy="203.7" r="2.1" fill="#708090" fill-opacity="0.1" stroke="#708090" stroke-opacity="0.8" stroke-width="0.8"/>
<line x1="451.5" y1="203" x2="451.5" y2="204.4" stroke="#999" stroke-width="0.4" />
<line x1="450.5" y1="203" x2="452.5" y2="203" stroke="#999" stroke-width="0.4" />
<line x1="450.5" y1="204.4" x2="452.5" y2="204.4" stroke="#999" stroke-width="0.4" />
<circle cx="470" cy="193.15" r="2.1" fill="#708090" fill-opacity="0.1" stroke="#708090" stroke-opacity="0.8" stroke-width="0.8"/>
<line x1="470" y1="192.45" x2="470" y2="193.85" stroke="#999" stroke-width="0.4" />
<line x1="469" y1="192.45" x2="471" y2="192.45" stroke="#999" stroke-width="0.4" />
<line x1="469" y1="193.85" x2="471" y2="193.85" stroke="#999" stroke-width="0.4" />
<circle cx="488.5" cy="190.89" r="2.1" fill="#708090" fill-opacity="0.1" stroke="#708090" stroke-opacity="0.8" stroke-width="0.8"/>
<line x1="488.5" y1="190.19" x2="488.5" y2="191.59" stroke="#999" stroke-width="0.4" />
<line x1="487.5" y1="190.19" x2="489.5" y2="190.19" stroke="#999" stroke-width="0.4" />
<line x1="487.5" y1="191.59" x2="489.5" y2="191.59" stroke="#999" stroke-width="0.4" />
<circle cx="303.5" cy="289.28" r="2.1" fill="#6495ed" fill-opacity="0.1" stroke="#6495ed" stroke-opacity="0.8" stroke-width="0.8"/>
<line x1="303.5" y1="288.58" x2="303.5" y2="289.98" stroke="#999" stroke-width="0.4" />
<line x1="302.5" y1="288.58" x2="304.5" y2="288.58" stroke="#999" stroke-width="0.4" />
<line x1="302.5" y1="289.98" x2="304.5" y2="289.98" stroke="#999" stroke-width="0.4" />
<circle cx="322" cy="274.2" r="2.1" fill="#6495ed" fill-opacity="0.1" stroke="#6495ed" stroke-opacity="0.8" stroke-width="0.8"/>
<line x1="322" y1="273.5" x2="322" y2="274.9" stroke="#999" stroke-width="0.4" />
<line x1="321" y1="273.5" x2="323" y2="273.5" stroke="#999" stroke-width="0.4" />
<line x1="321" y1="274.9" x2="323" y2="274.9" stroke="#999" stroke-width="0.4" />
<circle cx="340.5" cy="265.53" r="2.1" fill="#6495ed" fill-opacity="0.1" stroke="#6495ed" stroke-opacity="0.8" stroke-width="0.8"/>
<line x1="340.5" y1="264.83" x2="340.5" y2="266.23" stroke="#999" stroke-width="0.4" />
<line x1="339.5" y1="264.83" x2="341.5" y2="264.83" stroke="#999" stroke-width="0.4" />
<line x1="339.5" y1="266.23" x2="341.5" y2="266.23" stroke="#999" stroke-width="0.4" />
<circle cx="359" cy="255.35" r="2.1" fill="#6495ed" fill-opacity="0.1" stroke="#6495ed" stroke-opacity="0.8" stroke-width="0.8"/>
<line x1="359" y1="254.65" x2="359" y2="256.05" stroke="#999" stroke-width="0.4" />
<line x1="358" y1="254.65" x2="360" y2="254.65" stroke="#999" stroke-width="0.4" />
<line x1="358" y1="256.05" x2="360" y2="256.05" stroke="#999" stroke-width="0.4" />
<circle cx="377.5" cy="240.65" r="2.1" fill="#6495ed" fill-opacity="0.1" stroke="#6495ed" stroke-opacity="0.8" stroke-width="0.8"/>
<line x1="377.5" y1="239.95" x2="377.5" y2="241.35" stroke="#999" stroke-width="0.4" />
<line x1="376.5" y1="239.95" x2="378.5" y2="239.95" stroke="#999" stroke-width="0.4" />
<line x1="376.5" y1="241.35" x2="378.5" y2="241.35" stroke="#999" stroke-width="0.4" />
<circle cx="396" cy="235.75" r="2.1" fill="#6495ed" fill-opacity="0.1" stroke="#6495ed" stroke-opacity="0.8" stroke-width="0.8"/>
<line x1="396" y1="235.05" x2="396" y2="236.45" stroke="#999" stroke-width="0.4" />
<line x1="395" y1="235.05" x2="397" y2="235.05" stroke="#999" stroke-width="0.4" />
<line x1="395" y1="236.45" x2="397" y2="236.45" stroke="#999" stroke-width="0.4" />
<circle cx="414.5" cy="223.69" r="2.1" fill="#6495ed" fill-opacity="0.1" stroke="#6495ed" stroke-opacity="0.8" stroke-width="0.8"/>
<line x1="414.5" y1="222.99" x2="414.5" y2="224.38" stroke="#999" stroke-width="0.4" />
<line x1="413.5" y1="222.99" x2="415.5" y2="222.99" stroke="#999" stroke-width="0.4" />
<line x1="413.5" y1="224.38" x2="415.5" y2="224.38" stroke="#999" stroke-width="0.4" />
<circle cx="433" cy="217.65" r="2.1" fill="#6495ed" fill-opacity="0.1" stroke="#6495ed" stroke-opacity="0.8" stroke-width="0.8"/>
<line x1="433" y1="216.95" x2="433" y2="218.35" stroke="#999" stroke-width="0.4" />
<line x1="432" y1="216.95" x2="434" y2="216.95" stroke="#999" stroke-width="0.4" />
<line x1="432" y1="218.35" x2="434" y2="218.35" stroke="#999" stroke-width="0.4" />
<circle cx="451.5" cy="207.85" r="2.1" fill="#6495ed" fill-opacity="0.1" stroke="#6495ed" stroke-opacity="0.8" stroke-width="0.8"/>
<line x1="451.5" y1="207.15" x2="451.5" y2="208.55" stroke="#999" stroke-width="0.4" />
<line x1="450.5" y1="207.15" x2="452.5" y2="207.15" stroke="#999" stroke-width="0.4" />
<line x1="450.5" y1="208.55" x2="452.5" y2="208.55" stroke="#999" stroke-width="0.4" />
<circle cx="470" cy="196.92" r="2.1" fill="#6495ed" fill-opacity="0.1" stroke="#6495ed" stroke-opacity="0.8" stroke-width="0.8"/>
<line x1="470" y1="196.22" x2="470" y2="197.62" stroke="#999" stroke-width="0.4" />
<line x1="469" y1="196.22" x2="471" y2="196.22" stroke="#999" stroke-width="0.4" />
<line x1="469" y1="197.62" x2="471" y2="197.62" stroke="#999" stroke-width="0.4" />
<circle cx="488.5" cy="194.66" r="2.1" fill="#6495ed" fill-opacity="0.1" stroke="#6495ed" stroke-opacity="0.8" stroke-width="0.8"/>
<line x1="488.5" y1="193.96" x2="488.5" y2="195.36" stroke="#999" stroke-width="0.4" />
<line x1="487.5" y1="193.96" x2="489.5" y2="193.96" stroke="#999" stroke-width="0.4" />
<line x1="487.5" y1="195.36" x2="489.5" y2="195.36" stroke="#999" stroke-width="0.4" />
<rect x="294.2" y="165.7" width="203.4" height="131.5" fill="none" stroke="#8a8a8a" stroke-width="1.5"/>
<line x1="303.5" y1="297.2" x2="303.5" y2="299.8" stroke="#333" stroke-width="0.9" />
<text transform="translate(301.73 307.6) scale(0.9761 1)" x="-0.33" y="0" font-size="8.42" fill="#1a1a1a" stroke="#1a1a1a" stroke-width="0.12">0</text>
<line x1="340.5" y1="297.2" x2="340.5" y2="299.8" stroke="#333" stroke-width="0.9" />
<text transform="translate(338.89 307.6) scale(0.9408 1)" x="-0.42" y="0" font-size="8.42" fill="#1a1a1a" stroke="#1a1a1a" stroke-width="0.12">2</text>
<line x1="377.5" y1="297.2" x2="377.5" y2="299.8" stroke="#333" stroke-width="0.9" />
<text transform="translate(375.63 307.6) scale(0.9762 1)" x="-0.19" y="0" font-size="8.42" fill="#1a1a1a" stroke="#1a1a1a" stroke-width="0.12">4</text>
<line x1="414.5" y1="297.2" x2="414.5" y2="299.8" stroke="#333" stroke-width="0.9" />
<text transform="translate(412.74 307.6) scale(1.0102 1)" x="-0.43" y="0" font-size="8.42" fill="#1a1a1a" stroke="#1a1a1a" stroke-width="0.12">6</text>
<line x1="451.5" y1="297.2" x2="451.5" y2="299.8" stroke="#333" stroke-width="0.9" />
<text transform="translate(449.75 307.6) scale(0.9866 1)" x="-0.37" y="0" font-size="8.42" fill="#1a1a1a" stroke="#1a1a1a" stroke-width="0.12">8</text>
<line x1="488.5" y1="297.2" x2="488.5" y2="299.8" stroke="#333" stroke-width="0.9" />
<text transform="translate(484.42 307.6) scale(1.0180 1)" x="-0.64" y="0" font-size="8.42" fill="#1a1a1a" stroke="#1a1a1a" stroke-width="0.12">10</text>
<line x1="291.6" y1="297.2" x2="294.2" y2="297.2" stroke="#333" stroke-width="0.9" />
<text transform="translate(277.63 300.05) scale(1.0290 1)" x="-0.33" y="0" font-size="8.42" fill="#1a1a1a" stroke="#1a1a1a" stroke-width="0.12">0.0</text>
<line x1="291.6" y1="259.5" x2="294.2" y2="259.5" stroke="#333" stroke-width="0.9" />
<text transform="translate(277.83 262.35) scale(1.0183 1)" x="-0.33" y="0" font-size="8.42" fill="#1a1a1a" stroke="#1a1a1a" stroke-width="0.12">0.1</text>
<line x1="291.6" y1="221.8" x2="294.2" y2="221.8" stroke="#333" stroke-width="0.9" />
<text transform="translate(277.89 224.65) scale(1.0139 1)" x="-0.33" y="0" font-size="8.42" fill="#1a1a1a" stroke="#1a1a1a" stroke-width="0.12">0.2</text>
<line x1="291.6" y1="184.1" x2="294.2" y2="184.1" stroke="#333" stroke-width="0.9" />
<text transform="translate(277.73 186.95) scale(1.0231 1)" x="-0.33" y="0" font-size="8.42" fill="#1a1a1a" stroke="#1a1a1a" stroke-width="0.12">0.3</text>
<text transform="translate(383.9 318) scale(0.9894 1)" x="-0.7" y="0" font-size="8.53" fill="#1a1a1a" stroke="#1a1a1a" stroke-width="0.12">Rounds</text>
<text transform="translate(273.1 255.3) rotate(-90) scale(1.0270 1)" x="-0.7" y="0" font-size="8.48" fill="#1a1a1a" stroke="#1a1a1a" stroke-width="0.12">Logical Error</text>
<text transform="translate(259.5 171.6) scale(1.0587 1)" x="-0.6" y="0" font-size="9.72" fill="#1a1a1a" stroke="#1a1a1a" stroke-width="0.05">(d)</text>
<line x1="305.5" y1="171.2" x2="305.5" y2="180.6" stroke="#1a1a1a" stroke-width="0.85" />
<text transform="translate(307.37 179.73) scale(0.9761 1)" x="-0.44" y="0" font-size="11.34" fill="#1a1a1a" stroke="#1a1a1a" stroke-width="0.12">0</text>
<path d="M314.24 171.2 Q318.9 175.9 314.24 180.6" fill="none" stroke="#1a1a1a" stroke-width="0.77"/>
<text transform="translate(317.06 182.76) scale(0.9526 1)" x="-0.56" y="0" font-size="6.80" fill="#1a1a1a" stroke="#1a1a1a" stroke-width="0.12">L</text>
<line x1="549.1" y1="108.13" x2="683.8" y2="108.13" stroke="#c8c8c8" stroke-width="0.85" stroke-dasharray="2.1 0.8"/>
<line x1="549.1" y1="81.76" x2="683.8" y2="81.76" stroke="#c8c8c8" stroke-width="0.85" stroke-dasharray="2.1 0.8"/>
<line x1="549.1" y1="55.39" x2="683.8" y2="55.39" stroke="#c8c8c8" stroke-width="0.85" stroke-dasharray="2.1 0.8"/>
<line x1="549.1" y1="29.02" x2="683.8" y2="29.02" stroke="#c8c8c8" stroke-width="0.85" stroke-dasharray="2.1 0.8"/>
<rect x="549.1" y="2.8" width="134.7" height="131.7" fill="none" stroke="#8e8e8e" stroke-width="1.6"/>
<rect x="566" y="7.79" width="8.3" height="127.21" fill="#ee82ee" />
<rect x="574.3" y="18.47" width="8.5" height="116.53" fill="#90ee90" />
<rect x="582.8" y="16.76" width="8.4" height="118.24" fill="#708090" />
<rect x="591.2" y="18.08" width="8.7" height="116.92" fill="#6495ed" />
<rect x="633.8" y="11.22" width="8.4" height="123.78" fill="#ee82ee" />
<rect x="642.2" y="21.64" width="8.3" height="113.36" fill="#90ee90" />
<rect x="650.5" y="19.92" width="8.5" height="115.08" fill="#708090" />
<rect x="659" y="21.37" width="8.6" height="113.63" fill="#6495ed" />
<line x1="570.15" y1="3.2" x2="570.15" y2="12.7" stroke="#7a7a7a" stroke-width="0.75" />
<line x1="568.85" y1="3.2" x2="571.45" y2="3.2" stroke="#7a7a7a" stroke-width="0.75" />
<line x1="568.85" y1="12.7" x2="571.45" y2="12.7" stroke="#7a7a7a" stroke-width="0.75" />
<line x1="578.55" y1="14.4" x2="578.55" y2="22.9" stroke="#7a7a7a" stroke-width="0.75" />
<line x1="577.25" y1="14.4" x2="579.85" y2="14.4" stroke="#7a7a7a" stroke-width="0.75" />
<line x1="577.25" y1="22.9" x2="579.85" y2="22.9" stroke="#7a7a7a" stroke-width="0.75" />
<line x1="587" y1="13.1" x2="587" y2="21.2" stroke="#7a7a7a" stroke-width="0.75" />
<line x1="585.7" y1="13.1" x2="588.3" y2="13.1" stroke="#7a7a7a" stroke-width="0.75" />
<line x1="585.7" y1="21.2" x2="588.3" y2="21.2" stroke="#7a7a7a" stroke-width="0.75" />
<line x1="595.55" y1="14.4" x2="595.55" y2="22.4" stroke="#7a7a7a" stroke-width="0.75" />
<line x1="594.25" y1="14.4" x2="596.85" y2="14.4" stroke="#7a7a7a" stroke-width="0.75" />
<line x1="594.25" y1="22.4" x2="596.85" y2="22.4" stroke="#7a7a7a" stroke-width="0.75" />
<line x1="638" y1="7.4" x2="638" y2="15.2" stroke="#7a7a7a" stroke-width="0.75" />
<line x1="636.7" y1="7.4" x2="639.3" y2="7.4" stroke="#7a7a7a" stroke-width="0.75" />
<line x1="636.7" y1="15.2" x2="639.3" y2="15.2" stroke="#7a7a7a" stroke-width="0.75" />
<line x1="646.35" y1="18" x2="646.35" y2="25" stroke="#7a7a7a" stroke-width="0.75" />
<line x1="645.05" y1="18" x2="647.65" y2="18" stroke="#7a7a7a" stroke-width="0.75" />
<line x1="645.05" y1="25" x2="647.65" y2="25" stroke="#7a7a7a" stroke-width="0.75" />
<line x1="654.75" y1="16.5" x2="654.75" y2="23.7" stroke="#7a7a7a" stroke-width="0.75" />
<line x1="653.45" y1="16.5" x2="656.05" y2="16.5" stroke="#7a7a7a" stroke-width="0.75" />
<line x1="653.45" y1="23.7" x2="656.05" y2="23.7" stroke="#7a7a7a" stroke-width="0.75" />
<line x1="663.3" y1="17.6" x2="663.3" y2="25.8" stroke="#7a7a7a" stroke-width="0.75" />
<line x1="662" y1="17.6" x2="664.6" y2="17.6" stroke="#7a7a7a" stroke-width="0.75" />
<line x1="662" y1="25.8" x2="664.6" y2="25.8" stroke="#7a7a7a" stroke-width="0.75" />
<line x1="546.9" y1="134.5" x2="549.1" y2="134.5" stroke="#4a4a4a" stroke-width="0.8" />
<text transform="translate(531.3 137.4) scale(1.0300 1)" x="-0.27" y="0" font-size="6.91" fill="#1a1a1a" stroke="#1a1a1a" stroke-width="0.12">0.00</text>
<line x1="546.9" y1="108.13" x2="549.1" y2="108.13" stroke="#4a4a4a" stroke-width="0.8" />
<text transform="translate(531.3 111.03) scale(1.0362 1)" x="-0.27" y="0" font-size="6.91" fill="#1a1a1a" stroke="#1a1a1a" stroke-width="0.12">0.02</text>
<line x1="546.9" y1="81.76" x2="549.1" y2="81.76" stroke="#4a4a4a" stroke-width="0.8" />
<text transform="translate(531.3 84.66) scale(1.0246 1)" x="-0.27" y="0" font-size="6.91" fill="#1a1a1a" stroke="#1a1a1a" stroke-width="0.12">0.04</text>
<line x1="546.9" y1="55.39" x2="549.1" y2="55.39" stroke="#4a4a4a" stroke-width="0.8" />
<text transform="translate(531.3 58.29) scale(1.0327 1)" x="-0.27" y="0" font-size="6.91" fill="#1a1a1a" stroke="#1a1a1a" stroke-width="0.12">0.06</text>
<line x1="546.9" y1="29.02" x2="549.1" y2="29.02" stroke="#4a4a4a" stroke-width="0.8" />
<text transform="translate(531.3 31.92) scale(1.0324 1)" x="-0.27" y="0" font-size="6.91" fill="#1a1a1a" stroke="#1a1a1a" stroke-width="0.12">0.08</text>
<line x1="546.9" y1="2.65" x2="549.1" y2="2.65" stroke="#4a4a4a" stroke-width="0.8" />
<text transform="translate(531.3 5.55) scale(1.0300 1)" x="-0.27" y="0" font-size="6.91" fill="#1a1a1a" stroke="#1a1a1a" stroke-width="0.12">0.10</text>
<line x1="578.3" y1="140.05" x2="578.3" y2="145.95" stroke="#1a1a1a" stroke-width="0.85" />
<line x1="579.42" y1="143.5" x2="583.43" y2="143.5" stroke="#1a1a1a" stroke-width="0.8075" />
<line x1="581.5" y1="140.99" x2="581.5" y2="145.01" stroke="#1a1a1a" stroke-width="0.8075" />
<path d="M584.91 140.05 Q588.4 143 584.91 145.95" fill="none" stroke="#1a1a1a" stroke-width="0.77"/>
<text transform="translate(587.09 148.78) scale(0.9526 1)" x="-0.35" y="0" font-size="4.32" fill="#1a1a1a" stroke="#1a1a1a" stroke-width="0.12">L</text>
<line x1="643.5" y1="139.3" x2="643.5" y2="145.5" stroke="#1a1a1a" stroke-width="0.85" />
<line x1="645.67" y1="142.5" x2="648.15" y2="142.5" stroke="#1a1a1a" stroke-width="0.8075" />
<path d="M649.08 139.3 Q652.45 142.4 649.08 145.5" fill="none" stroke="#1a1a1a" stroke-width="0.77"/>
<text transform="translate(651.19 148.29) scale(0.9526 1)" x="-0.35" y="0" font-size="4.32" fill="#1a1a1a" stroke="#1a1a1a" stroke-width="0.12">L</text>
<text transform="translate(605 152.9) scale(0.9942 1)" x="-0.36" y="0" font-size="8.00" fill="#1a1a1a" stroke="#1a1a1a" stroke-width="0.12">States</text>
<text transform="translate(526 106.5) rotate(-90) scale(1.0687 1)" x="-0.59" y="0" font-size="7.24" fill="#1a1a1a" stroke="#1a1a1a" stroke-width="0.12">Logical error per round</text>
<text x="512.9" y="7.1" font-size="9.3" style="font-family:&quot;Liberation Serif&quot;,serif" fill="#1a1a1a" textLength="12.2" lengthAdjust="spacingAndGlyphs">(e)</text>
<rect x="557.1" y="91.3" width="119.6" height="41.6" rx="1.6" fill="#fff" fill-opacity="0.8" stroke="#cccccc" stroke-width="0.8"/>
<rect x="560.6" y="94.6" width="10.1" height="5" fill="#ee82ee" />
<text transform="translate(574 99.3) scale(1.0529 1)" x="-0.62" y="0" font-size="7.61" fill="#1a1a1a" stroke="#1a1a1a" stroke-width="0.12">Matching (Uniform)</text>
<rect x="560.6" y="103.9" width="10.1" height="5" fill="#90ee90" />
<text transform="translate(574 108.6) scale(1.0562 1)" x="-0.62" y="0" font-size="7.61" fill="#1a1a1a" stroke="#1a1a1a" stroke-width="0.12">Matching (Analytical)</text>
<rect x="560.6" y="113.3" width="10.1" height="5" fill="#708090" />
<text transform="translate(574 118) scale(1.0544 1)" x="-0.62" y="0" font-size="7.61" fill="#1a1a1a" stroke="#1a1a1a" stroke-width="0.12">Matching (Analytical w/Soft)</text>
<rect x="560.6" y="122.9" width="10.1" height="5" fill="#6495ed" />
<text transform="translate(574 127.6) scale(1.0462 1)" x="-0.62" y="0" font-size="7.61" fill="#1a1a1a" stroke="#1a1a1a" stroke-width="0.12">Maximum Likelihood</text>
<line x1="548.2" y1="270.3" x2="683.5" y2="270.3" stroke="#c8c8c8" stroke-width="0.85" stroke-dasharray="2.1 0.8"/>
<line x1="548.2" y1="243.8" x2="683.5" y2="243.8" stroke="#c8c8c8" stroke-width="0.85" stroke-dasharray="2.1 0.8"/>
<line x1="548.2" y1="217.3" x2="683.5" y2="217.3" stroke="#c8c8c8" stroke-width="0.85" stroke-dasharray="2.1 0.8"/>
<line x1="548.2" y1="190.8" x2="683.5" y2="190.8" stroke="#c8c8c8" stroke-width="0.85" stroke-dasharray="2.1 0.8"/>
<rect x="548.2" y="164.3" width="135.3" height="132.4" fill="none" stroke="#8e8e8e" stroke-width="1.6"/>
<rect x="565.1" y="175.96" width="8.5" height="121.24" fill="#ee82ee" />
<rect x="573.6" y="188.42" width="8.5" height="108.78" fill="#90ee90" />
<rect x="582.1" y="194.51" width="8.5" height="102.69" fill="#708090" />
<rect x="590.6" y="201.13" width="8.5" height="96.06" fill="#6495ed" />
<rect x="633.1" y="171.46" width="8.1" height="125.74" fill="#ee82ee" />
<rect x="641.2" y="181.26" width="8.5" height="115.94" fill="#90ee90" />
<rect x="649.7" y="187.09" width="8.5" height="110.11" fill="#708090" />
<rect x="658.2" y="195.57" width="8.7" height="101.63" fill="#6495ed" />
<line x1="569.35" y1="173.6" x2="569.35" y2="178.5" stroke="#7a7a7a" stroke-width="0.75" />
<line x1="568.05" y1="173.6" x2="570.65" y2="173.6" stroke="#7a7a7a" stroke-width="0.75" />
<line x1="568.05" y1="178.5" x2="570.65" y2="178.5" stroke="#7a7a7a" stroke-width="0.75" />
<line x1="577.85" y1="185.1" x2="577.85" y2="191.5" stroke="#7a7a7a" stroke-width="0.75" />
<line x1="576.55" y1="185.1" x2="579.15" y2="185.1" stroke="#7a7a7a" stroke-width="0.75" />
<line x1="576.55" y1="191.5" x2="579.15" y2="191.5" stroke="#7a7a7a" stroke-width="0.75" />
<line x1="586.35" y1="191.2" x2="586.35" y2="197.2" stroke="#7a7a7a" stroke-width="0.75" />
<line x1="585.05" y1="191.2" x2="587.65" y2="191.2" stroke="#7a7a7a" stroke-width="0.75" />
<line x1="585.05" y1="197.2" x2="587.65" y2="197.2" stroke="#7a7a7a" stroke-width="0.75" />
<line x1="594.85" y1="198.3" x2="594.85" y2="203.4" stroke="#7a7a7a" stroke-width="0.75" />
<line x1="593.55" y1="198.3" x2="596.15" y2="198.3" stroke="#7a7a7a" stroke-width="0.75" />
<line x1="593.55" y1="203.4" x2="596.15" y2="203.4" stroke="#7a7a7a" stroke-width="0.75" />
<line x1="637.15" y1="164.2" x2="637.15" y2="178.5" stroke="#7a7a7a" stroke-width="0.75" />
<line x1="635.85" y1="164.2" x2="638.45" y2="164.2" stroke="#7a7a7a" stroke-width="0.75" />
<line x1="635.85" y1="178.5" x2="638.45" y2="178.5" stroke="#7a7a7a" stroke-width="0.75" />
<line x1="645.45" y1="171" x2="645.45" y2="191.2" stroke="#7a7a7a" stroke-width="0.75" />
<line x1="644.15" y1="171" x2="646.75" y2="171" stroke="#7a7a7a" stroke-width="0.75" />
<line x1="644.15" y1="191.2" x2="646.75" y2="191.2" stroke="#7a7a7a" stroke-width="0.75" />
<line x1="653.95" y1="181.1" x2="653.95" y2="192.5" stroke="#7a7a7a" stroke-width="0.75" />
<line x1="652.65" y1="181.1" x2="655.25" y2="181.1" stroke="#7a7a7a" stroke-width="0.75" />
<line x1="652.65" y1="192.5" x2="655.25" y2="192.5" stroke="#7a7a7a" stroke-width="0.75" />
<line x1="662.55" y1="191.2" x2="662.55" y2="199.7" stroke="#7a7a7a" stroke-width="0.75" />
<line x1="661.25" y1="191.2" x2="663.85" y2="191.2" stroke="#7a7a7a" stroke-width="0.75" />
<line x1="661.25" y1="199.7" x2="663.85" y2="199.7" stroke="#7a7a7a" stroke-width="0.75" />
<line x1="546" y1="296.8" x2="548.2" y2="296.8" stroke="#4a4a4a" stroke-width="0.8" />
<text transform="translate(530.5 299.7) scale(1.0300 1)" x="-0.27" y="0" font-size="6.91" fill="#1a1a1a" stroke="#1a1a1a" stroke-width="0.12">0.00</text>
<line x1="546" y1="270.3" x2="548.2" y2="270.3" stroke="#4a4a4a" stroke-width="0.8" />
<text transform="translate(530.5 273.2) scale(1.0354 1)" x="-0.27" y="0" font-size="6.91" fill="#1a1a1a" stroke="#1a1a1a" stroke-width="0.12">0.01</text>
<line x1="546" y1="243.8" x2="548.2" y2="243.8" stroke="#4a4a4a" stroke-width="0.8" />
<text transform="translate(530.5 246.7) scale(1.0362 1)" x="-0.27" y="0" font-size="6.91" fill="#1a1a1a" stroke="#1a1a1a" stroke-width="0.12">0.02</text>
<line x1="546" y1="217.3" x2="548.2" y2="217.3" stroke="#4a4a4a" stroke-width="0.8" />
<text transform="translate(530.5 220.2) scale(1.0327 1)" x="-0.27" y="0" font-size="6.91" fill="#1a1a1a" stroke="#1a1a1a" stroke-width="0.12">0.03</text>
<line x1="546" y1="190.8" x2="548.2" y2="190.8" stroke="#4a4a4a" stroke-width="0.8" />
<text transform="translate(530.5 193.7) scale(1.0246 1)" x="-0.27" y="0" font-size="6.91" fill="#1a1a1a" stroke="#1a1a1a" stroke-width="0.12">0.04</text>
<line x1="546" y1="164.3" x2="548.2" y2="164.3" stroke="#4a4a4a" stroke-width="0.8" />
<text transform="translate(530.5 167.2) scale(1.0316 1)" x="-0.27" y="0" font-size="6.91" fill="#1a1a1a" stroke="#1a1a1a" stroke-width="0.12">0.05</text>
<line x1="575.5" y1="301.95" x2="575.5" y2="308.65" stroke="#1a1a1a" stroke-width="0.85" />
<text transform="translate(577.37 307.92) scale(0.9761 1)" x="-0.3" y="0" font-size="7.78" fill="#1a1a1a" stroke="#1a1a1a" stroke-width="0.12">0</text>
<path d="M582.07 301.95 Q585.93 305.3 582.07 308.65" fill="none" stroke="#1a1a1a" stroke-width="0.77"/>
<text transform="translate(583.88 311.33) scale(0.9526 1)" x="-0.35" y="0" font-size="4.21" fill="#1a1a1a" stroke="#1a1a1a" stroke-width="0.12">L</text>
<line x1="641.8" y1="302.95" x2="641.8" y2="309.65" stroke="#1a1a1a" stroke-width="0.85" />
<text transform="translate(643.92 308.92) scale(0.9322 1)" x="-0.59" y="0" font-size="7.78" fill="#1a1a1a" stroke="#1a1a1a" stroke-width="0.12">1</text>
<path d="M648.37 302.95 Q652.23 306.3 648.37 309.65" fill="none" stroke="#1a1a1a" stroke-width="0.77"/>
<text transform="translate(650.17 312.33) scale(0.9526 1)" x="-0.35" y="0" font-size="4.21" fill="#1a1a1a" stroke="#1a1a1a" stroke-width="0.12">L</text>
<text transform="translate(601.6 314) scale(0.9624 1)" x="-0.36" y="0" font-size="8.00" fill="#1a1a1a" stroke="#1a1a1a" stroke-width="0.12">States</text>
<text transform="translate(525.8 268.4) rotate(-90) scale(1.0590 1)" x="-0.59" y="0" font-size="7.24" fill="#1a1a1a" stroke="#1a1a1a" stroke-width="0.12">Logical error per round</text>
<text transform="translate(513 172) scale(1.2047 1)" x="-0.6" y="0" font-size="9.72" fill="#1a1a1a" stroke="#1a1a1a" stroke-width="0.05">(f)</text>
</svg></body></html>
